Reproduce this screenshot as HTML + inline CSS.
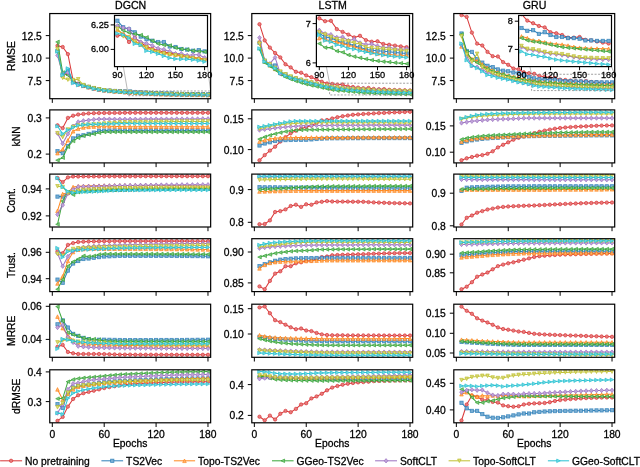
<!DOCTYPE html><html><head><meta charset="utf-8"><style>html,body{margin:0;padding:0;background:#fff;}svg{display:block;will-change:transform;filter:blur(0.25px);} text{stroke:#000;stroke-width:0.28px;fill:#000}</style></head><body><svg width="640" height="467" viewBox="0 0 640 467" font-family="Liberation Sans, sans-serif" font-size="10.3" stroke-width="0"><rect width="640" height="467" fill="#fff"/><g transform="translate(0.1,0.3)"><defs><marker id="m0" markerUnits="userSpaceOnUse" markerWidth="10" markerHeight="10" refX="0" refY="0" overflow="visible"><circle cx="0.00" cy="0.00" r="1.7" fill="#e67d7e" stroke="#d62728" stroke-opacity="0.75" stroke-width="0.8"/></marker><marker id="m1" markerUnits="userSpaceOnUse" markerWidth="10" markerHeight="10" refX="0" refY="0" overflow="visible"><rect x="-1.65" y="-1.65" width="3.30" height="3.30" fill="#79add2" stroke="#1f77b4" stroke-opacity="0.75" stroke-width="0.8"/></marker><marker id="m2" markerUnits="userSpaceOnUse" markerWidth="10" markerHeight="10" refX="0" refY="0" overflow="visible"><path d="M0.00 -1.80L1.80 1.80L-1.80 1.80Z" fill="#ffb26e" stroke="#ff7f0e" stroke-opacity="0.75" stroke-width="0.8"/></marker><marker id="m3" markerUnits="userSpaceOnUse" markerWidth="10" markerHeight="10" refX="0" refY="0" overflow="visible"><path d="M-1.80 0.00L1.80 -1.80L1.80 1.80Z" fill="#80c680" stroke="#2ca02c" stroke-opacity="0.75" stroke-width="0.8"/></marker><marker id="m4" markerUnits="userSpaceOnUse" markerWidth="10" markerHeight="10" refX="0" refY="0" overflow="visible"><path d="M0.00 -2.20L1.85 0.00L0.00 2.20L-1.85 0.00Z" fill="#bfa4d7" stroke="#9467bd" stroke-opacity="0.75" stroke-width="0.8"/></marker><marker id="m5" markerUnits="userSpaceOnUse" markerWidth="10" markerHeight="10" refX="0" refY="0" overflow="visible"><path d="M0.00 1.80L1.80 -1.80L-1.80 -1.80Z" fill="#d7d77a" stroke="#bcbd22" stroke-opacity="0.75" stroke-width="0.8"/></marker><marker id="m6" markerUnits="userSpaceOnUse" markerWidth="10" markerHeight="10" refX="0" refY="0" overflow="visible"><path d="M1.80 0.00L-1.80 -1.80L-1.80 1.80Z" fill="#74d8e2" stroke="#17becf" stroke-opacity="0.75" stroke-width="0.8"/></marker></defs><style>.s0{fill:none;stroke:#d62728;stroke-width:1.05;stroke-linejoin:round;stroke-opacity:0.9;marker-start:url(#m0);marker-mid:url(#m0);marker-end:url(#m0)}.s1{fill:none;stroke:#1f77b4;stroke-width:1.05;stroke-linejoin:round;stroke-opacity:0.9;marker-start:url(#m1);marker-mid:url(#m1);marker-end:url(#m1)}.s2{fill:none;stroke:#ff7f0e;stroke-width:1.05;stroke-linejoin:round;stroke-opacity:0.9;marker-start:url(#m2);marker-mid:url(#m2);marker-end:url(#m2)}.s3{fill:none;stroke:#2ca02c;stroke-width:1.05;stroke-linejoin:round;stroke-opacity:0.9;marker-start:url(#m3);marker-mid:url(#m3);marker-end:url(#m3)}.s4{fill:none;stroke:#9467bd;stroke-width:1.05;stroke-linejoin:round;stroke-opacity:0.9;marker-start:url(#m4);marker-mid:url(#m4);marker-end:url(#m4)}.s5{fill:none;stroke:#bcbd22;stroke-width:1.05;stroke-linejoin:round;stroke-opacity:0.9;marker-start:url(#m5);marker-mid:url(#m5);marker-end:url(#m5)}.s6{fill:none;stroke:#17becf;stroke-width:1.05;stroke-linejoin:round;stroke-opacity:0.9;marker-start:url(#m6);marker-mid:url(#m6);marker-end:url(#m6)}</style><clipPath id="c0"><rect x="49.65" y="13.25" width="160.9" height="85.15"/></clipPath><path clip-path="url(#c0)" class="s0" d="M57.4 45.4L62.6 46.7L67.8 53.8L73.0 80.1L78.1 83.4L83.3 85.2L88.5 86.6L93.7 88.1L98.9 89.1L104.1 90.0L109.3 90.6L114.5 91.1L119.7 91.5L124.8 92.0L130.0 92.5L135.2 92.4L140.4 93.1L145.6 92.7L150.8 93.2L156.0 93.5L161.2 93.7L166.4 93.9L171.5 94.0L176.7 94.1L181.9 94.2L187.1 94.4L192.3 94.4L197.5 94.5L202.7 94.6L207.9 94.7"/><path clip-path="url(#c0)" class="s1" d="M57.4 50.6L62.6 74.4L67.8 69.5L73.0 81.2L78.1 83.7L83.3 85.2L88.5 86.6L93.7 87.9L98.9 89.0L104.1 89.8L109.3 90.3L114.5 90.7L119.7 90.9L124.8 91.1L130.0 91.2L135.2 91.8L140.4 92.0L145.6 92.2L150.8 92.6L156.0 92.9L161.2 93.0L166.4 93.1L171.5 93.1L176.7 93.5L181.9 93.6L187.1 93.8L192.3 93.8L197.5 93.9L202.7 93.9L207.9 94.0"/><path clip-path="url(#c0)" class="s2" d="M57.4 49.2L62.6 75.3L67.8 73.1L73.0 80.8L78.1 83.9L83.3 85.5L88.5 87.0L93.7 88.2L98.9 89.2L104.1 90.0L109.3 90.6L114.5 91.1L119.7 91.4L124.8 91.7L130.0 92.0L135.2 92.4L140.4 92.6L145.6 93.0L150.8 93.3L156.0 93.7L161.2 93.9L166.4 94.0L171.5 94.1L176.7 94.2L181.9 94.3L187.1 94.4L192.3 94.5L197.5 94.5L202.7 94.6L207.9 94.7"/><path clip-path="url(#c0)" class="s3" d="M57.4 41.6L62.6 72.2L67.8 74.9L73.0 80.8L78.1 83.9L83.3 85.3L88.5 86.7L93.7 87.9L98.9 88.9L104.1 89.8L109.3 90.4L114.5 90.8L119.7 91.2L124.8 91.5L130.0 91.6L135.2 92.1L140.4 92.3L145.6 92.4L150.8 92.5L156.0 92.7L161.2 93.0L166.4 93.3L171.5 93.4L176.7 93.4L181.9 93.7L187.1 93.8L192.3 93.8L197.5 93.9L202.7 94.0L207.9 94.0"/><path clip-path="url(#c0)" class="s4" d="M57.4 55.1L62.6 74.0L67.8 72.2L73.0 82.1L78.1 84.3L83.3 85.5L88.5 86.9L93.7 88.2L98.9 89.3L104.1 90.0L109.3 90.5L114.5 90.8L119.7 91.1L124.8 91.4L130.0 91.6L135.2 91.8L140.4 91.9L145.6 92.8L150.8 93.1L156.0 93.3L161.2 93.4L166.4 93.7L171.5 93.8L176.7 94.0L181.9 94.2L187.1 94.2L192.3 94.3L197.5 94.3L202.7 94.3L207.9 94.6"/><path clip-path="url(#c0)" class="s5" d="M57.4 48.8L62.6 77.6L67.8 79.4L73.0 79.8L78.1 79.0L83.3 84.8L88.5 86.7L93.7 87.9L98.9 89.1L104.1 90.0L109.3 90.6L114.5 91.1L119.7 91.5L124.8 91.7L130.0 91.9L135.2 92.6L140.4 92.7L145.6 93.1L150.8 93.4L156.0 93.6L161.2 93.9L166.4 94.1L171.5 94.2L176.7 94.3L181.9 94.3L187.1 94.4L192.3 94.5L197.5 94.6L202.7 94.7L207.9 94.8"/><path clip-path="url(#c0)" class="s6" d="M57.4 51.2L62.6 74.9L67.8 68.2L73.0 82.7L78.1 84.8L83.3 85.7L88.5 87.0L93.7 88.4L98.9 89.4L104.1 90.2L109.3 90.8L114.5 91.3L119.7 91.7L124.8 92.0L130.0 92.3L135.2 92.4L140.4 92.8L145.6 93.3L150.8 93.4L156.0 93.9L161.2 94.0L166.4 94.2L171.5 94.4L176.7 94.6L181.9 94.7L187.1 94.7L192.3 94.7L197.5 94.7L202.7 94.8L207.9 94.9"/><g clip-path="url(#c0)"><rect x="127.44" y="90.68" width="83.02" height="4.70" fill="none" stroke="#888" stroke-width="0.8" stroke-dasharray="2 1.5"/></g><line x1="114.40" y1="15.15" x2="127.44" y2="90.68" stroke="#999" stroke-width="0.7"/><line x1="207.40" y1="66.30" x2="210.46" y2="90.68" stroke="#999" stroke-width="0.7"/><rect x="49.65" y="13.25" width="160.9" height="85.15" fill="none" stroke="#000" stroke-width="1.2"/><line x1="52.20" y1="98.4" x2="52.20" y2="102.60000000000001" stroke="#000" stroke-width="1.0"/><line x1="104.09" y1="98.4" x2="104.09" y2="102.60000000000001" stroke="#000" stroke-width="1.0"/><line x1="155.98" y1="98.4" x2="155.98" y2="102.60000000000001" stroke="#000" stroke-width="1.0"/><line x1="207.87" y1="98.4" x2="207.87" y2="102.60000000000001" stroke="#000" stroke-width="1.0"/><line x1="45.65" y1="35.3" x2="49.65" y2="35.3" stroke="#000" stroke-width="1.0"/><text x="41.65" y="39.30" text-anchor="end">12.5</text><line x1="45.65" y1="57.8" x2="49.65" y2="57.8" stroke="#000" stroke-width="1.0"/><text x="41.65" y="61.80" text-anchor="end">10.0</text><line x1="45.65" y1="80.3" x2="49.65" y2="80.3" stroke="#000" stroke-width="1.0"/><text x="41.65" y="84.30" text-anchor="end">7.5</text><text transform="translate(14.75,55.83) rotate(-90)" text-anchor="middle">RMSE</text><text x="130.50" y="8.9" font-size="10.6" text-anchor="middle">DGCN</text><rect x="114.4" y="15.15" width="93.00" height="51.15" fill="#fff"/><clipPath id="ci0"><rect x="114.4" y="15.15" width="93.00" height="51.15"/></clipPath><path clip-path="url(#ci0)" class="s0" d="M117.3 35.4L123.1 34.4L128.9 41.7L134.7 37.3L140.6 42.2L146.4 46.2L152.2 48.4L158.0 50.1L163.8 51.6L169.6 52.8L175.4 54.0L181.2 55.1L187.1 56.2L192.9 57.2L198.7 58.1L204.5 58.9"/><path clip-path="url(#ci0)" class="s1" d="M117.3 20.4L123.1 27.0L128.9 29.0L134.7 32.0L140.6 36.3L146.4 38.9L152.2 40.4L158.0 41.7L163.8 41.7L169.6 46.2L175.4 46.7L181.2 48.7L187.1 49.3L192.9 50.4L198.7 49.8L204.5 51.1"/><path clip-path="url(#ci0)" class="s2" d="M117.3 29.5L123.1 33.7L128.9 36.4L134.7 40.3L140.6 44.2L146.4 47.5L152.2 49.8L158.0 51.6L163.8 52.7L169.6 53.6L175.4 54.5L181.2 55.4L187.1 56.2L192.9 57.1L198.7 57.9L204.5 58.6"/><path clip-path="url(#ci0)" class="s3" d="M117.3 25.6L123.1 30.2L128.9 32.4L134.7 33.7L140.6 34.8L146.4 37.1L152.2 40.6L158.0 43.5L163.8 44.7L169.6 45.2L175.4 47.5L181.2 48.7L187.1 49.3L192.9 50.4L198.7 51.1L204.5 51.5"/><path clip-path="url(#ci0)" class="s4" d="M117.3 25.6L123.1 27.5L128.9 28.5L134.7 37.7L140.6 41.7L146.4 43.2L152.2 45.3L158.0 48.1L163.8 49.1L169.6 51.1L175.4 53.3L181.2 53.3L187.1 55.1L192.9 54.5L198.7 54.5L204.5 57.4"/><path clip-path="url(#ci0)" class="s5" d="M117.3 28.5L123.1 36.1L128.9 37.3L134.7 41.3L140.6 44.4L146.4 47.1L152.2 49.9L158.0 52.0L163.8 53.2L169.6 54.1L175.4 55.0L181.2 56.0L187.1 56.9L192.9 57.9L198.7 58.9L204.5 59.9"/><path clip-path="url(#ci0)" class="s6" d="M117.3 33.1L123.1 34.4L128.9 37.7L134.7 43.5L140.6 44.7L146.4 50.5L152.2 51.6L158.0 53.5L163.8 55.6L169.6 57.6L175.4 58.6L181.2 58.8L187.1 58.9L192.9 59.4L198.7 60.3L204.5 61.4"/><rect x="114.4" y="15.15" width="93.00" height="51.15" fill="none" stroke="#000" stroke-width="1.2"/><line x1="117.31" y1="66.3" x2="117.31" y2="69.89999999999999" stroke="#000" stroke-width="1.0"/><text x="117.31" y="77.70" font-size="9.2" text-anchor="middle">90</text><line x1="146.37" y1="66.3" x2="146.37" y2="69.89999999999999" stroke="#000" stroke-width="1.0"/><text x="146.37" y="77.70" font-size="9.2" text-anchor="middle">120</text><line x1="175.43" y1="66.3" x2="175.43" y2="69.89999999999999" stroke="#000" stroke-width="1.0"/><text x="175.43" y="77.70" font-size="9.2" text-anchor="middle">150</text><line x1="204.49" y1="66.3" x2="204.49" y2="69.89999999999999" stroke="#000" stroke-width="1.0"/><text x="204.49" y="77.70" font-size="9.2" text-anchor="middle">180</text><line x1="110.60000000000001" y1="24.6" x2="114.4" y2="24.6" stroke="#000" stroke-width="1.0"/><text x="108.80" y="27.60" font-size="9.2" text-anchor="end">6.25</text><line x1="110.60000000000001" y1="49.1" x2="114.4" y2="49.1" stroke="#000" stroke-width="1.0"/><text x="108.80" y="52.10" font-size="9.2" text-anchor="end">6.00</text><clipPath id="c1"><rect x="251.7" y="13.25" width="160.9" height="85.15"/></clipPath><path clip-path="url(#c1)" class="s0" d="M259.4 23.9L264.6 40.1L269.8 47.3L275.0 52.7L280.2 57.1L285.4 64.0L290.6 67.1L295.8 71.5L301.0 72.4L306.1 75.1L311.3 76.9L316.5 79.1L321.7 81.4L326.9 83.2L332.1 83.6L337.3 84.3L342.5 84.2L347.7 86.1L352.8 86.7L358.0 87.3L363.2 87.9L368.4 87.6L373.6 88.6L378.8 88.9L384.0 88.8L389.2 89.5L394.4 89.7L399.5 89.8L404.7 90.0L409.9 90.2"/><path clip-path="url(#c1)" class="s1" d="M259.4 42.5L264.6 60.5L269.8 64.1L275.0 65.2L280.2 71.8L285.4 74.4L290.6 76.7L295.8 78.5L301.0 79.9L306.1 81.2L311.3 82.6L316.5 83.9L321.7 85.1L326.9 86.2L332.1 87.0L337.3 87.9L342.5 88.1L347.7 88.7L352.8 89.2L358.0 89.4L363.2 89.9L368.4 90.2L373.6 90.7L378.8 90.9L384.0 91.0L389.2 91.1L394.4 91.3L399.5 91.4L404.7 91.5L409.9 91.6"/><path clip-path="url(#c1)" class="s2" d="M259.4 41.0L264.6 61.4L269.8 65.0L275.0 68.6L280.2 72.2L285.4 74.9L290.6 77.1L295.8 78.9L301.0 80.4L306.1 81.7L311.3 83.0L316.5 84.3L321.7 85.7L326.9 87.0L332.1 88.1L337.3 88.4L342.5 88.8L347.7 89.0L352.8 89.4L358.0 89.8L363.2 90.1L368.4 90.6L373.6 91.0L378.8 91.4L384.0 91.6L389.2 91.8L394.4 91.9L399.5 92.0L404.7 92.1L409.9 92.1"/><path clip-path="url(#c1)" class="s3" d="M259.4 49.0L264.6 62.3L269.8 65.9L275.0 69.5L280.2 74.0L285.4 76.7L290.6 78.9L295.8 80.8L301.0 82.4L306.1 83.9L311.3 85.1L316.5 86.2L321.7 87.3L326.9 88.4L332.1 89.4L337.3 90.3L342.5 90.3L347.7 91.1L352.8 91.4L358.0 92.0L363.2 92.4L368.4 92.6L373.6 92.9L378.8 93.2L384.0 93.3L389.2 93.5L394.4 93.6L399.5 93.7L404.7 93.9L409.9 94.0"/><path clip-path="url(#c1)" class="s4" d="M259.4 37.4L264.6 60.4L269.8 63.4L275.0 57.1L280.2 73.3L285.4 74.0L290.6 76.9L295.8 78.0L301.0 79.4L306.1 80.8L311.3 82.1L316.5 83.4L321.7 84.7L326.9 85.7L332.1 86.3L337.3 87.1L342.5 87.3L347.7 87.9L352.8 87.9L358.0 88.7L363.2 88.4L368.4 89.2L373.6 89.6L378.8 89.5L384.0 89.9L389.2 90.3L394.4 90.2L399.5 90.6L404.7 90.7L409.9 90.6"/><path clip-path="url(#c1)" class="s5" d="M259.4 43.4L264.6 60.5L269.8 64.1L275.0 67.7L280.2 71.3L285.4 74.0L290.6 76.2L295.8 78.0L301.0 79.5L306.1 80.8L311.3 82.1L316.5 83.4L321.7 84.6L326.9 85.7L332.1 86.8L337.3 87.3L342.5 87.9L347.7 88.4L352.8 88.7L358.0 88.8L363.2 89.2L368.4 89.5L373.6 90.2L378.8 90.4L384.0 90.5L389.2 90.6L394.4 90.7L399.5 90.9L404.7 91.0L409.9 91.1"/><path clip-path="url(#c1)" class="s6" d="M259.4 48.2L264.6 61.4L269.8 65.0L275.0 67.9L280.2 72.7L285.4 75.3L290.6 77.3L295.8 78.9L301.0 80.3L306.1 81.7L311.3 83.0L316.5 84.3L321.7 85.6L326.9 86.6L332.1 87.4L337.3 88.7L342.5 88.9L347.7 89.7L352.8 89.9L358.0 90.5L363.2 90.7L368.4 91.0L373.6 91.3L378.8 91.6L384.0 91.8L389.2 92.0L394.4 92.2L399.5 92.3L404.7 92.5L409.9 92.5"/><g clip-path="url(#c1)"><rect x="329.49" y="82.93" width="83.02" height="11.71" fill="none" stroke="#888" stroke-width="0.8" stroke-dasharray="2 1.5"/></g><line x1="316.30" y1="15.15" x2="329.49" y2="82.93" stroke="#999" stroke-width="0.7"/><line x1="409.40" y1="66.30" x2="412.51" y2="82.93" stroke="#999" stroke-width="0.7"/><rect x="251.7" y="13.25" width="160.9" height="85.15" fill="none" stroke="#000" stroke-width="1.2"/><line x1="254.25" y1="98.4" x2="254.25" y2="102.60000000000001" stroke="#000" stroke-width="1.0"/><line x1="306.14" y1="98.4" x2="306.14" y2="102.60000000000001" stroke="#000" stroke-width="1.0"/><line x1="358.03" y1="98.4" x2="358.03" y2="102.60000000000001" stroke="#000" stroke-width="1.0"/><line x1="409.92" y1="98.4" x2="409.92" y2="102.60000000000001" stroke="#000" stroke-width="1.0"/><line x1="247.7" y1="35.3" x2="251.7" y2="35.3" stroke="#000" stroke-width="1.0"/><text x="243.70" y="39.30" text-anchor="end">12.5</text><line x1="247.7" y1="57.8" x2="251.7" y2="57.8" stroke="#000" stroke-width="1.0"/><text x="243.70" y="61.80" text-anchor="end">10.0</text><line x1="247.7" y1="80.3" x2="251.7" y2="80.3" stroke="#000" stroke-width="1.0"/><text x="243.70" y="84.30" text-anchor="end">7.5</text><text x="332.55" y="8.9" font-size="10.6" text-anchor="middle">LSTM</text><rect x="316.3" y="15.15" width="93.10" height="51.15" fill="#fff"/><clipPath id="ci1"><rect x="316.3" y="15.15" width="93.10" height="51.15"/></clipPath><path clip-path="url(#ci1)" class="s0" d="M319.2 18.0L325.0 20.9L330.8 20.5L336.7 28.8L342.5 31.6L348.3 34.3L354.1 37.1L359.9 35.5L365.8 39.8L371.6 41.4L377.4 41.0L383.2 43.7L389.0 44.5L394.9 45.3L400.7 46.1L406.5 46.9"/><path clip-path="url(#ci1)" class="s1" d="M319.2 33.1L325.0 36.7L330.8 37.8L336.7 40.2L342.5 42.6L348.3 43.3L354.1 45.7L359.9 46.9L365.8 49.2L371.6 49.9L377.4 50.4L383.2 51.0L389.0 51.5L394.9 52.1L400.7 52.6L406.5 53.2"/><path clip-path="url(#ci1)" class="s2" d="M319.2 37.8L325.0 39.0L330.8 40.6L336.7 41.8L342.5 43.3L348.3 44.9L354.1 46.5L359.9 48.5L365.8 50.3L371.6 52.0L377.4 53.2L383.2 53.8L389.0 54.3L394.9 54.8L400.7 55.0L406.5 55.1"/><path clip-path="url(#ci1)" class="s3" d="M319.2 43.3L325.0 47.3L330.8 47.3L336.7 50.8L342.5 52.0L348.3 54.7L354.1 56.3L359.9 57.5L365.8 58.7L371.6 59.8L377.4 60.6L383.2 61.3L389.0 61.8L394.9 62.4L400.7 62.9L406.5 63.4"/><path clip-path="url(#ci1)" class="s4" d="M319.2 30.0L325.0 33.5L330.8 34.3L336.7 37.1L342.5 36.7L348.3 40.2L354.1 39.0L359.9 42.6L365.8 44.1L371.6 43.7L377.4 45.7L383.2 47.3L389.0 46.9L394.9 48.5L400.7 49.2L406.5 48.5"/><path clip-path="url(#ci1)" class="s5" d="M319.2 31.9L325.0 34.3L330.8 36.7L336.7 39.0L342.5 40.2L348.3 41.0L354.1 42.6L359.9 43.7L365.8 46.9L371.6 47.6L377.4 48.1L383.2 48.6L389.0 49.2L394.9 49.7L400.7 50.3L406.5 50.8"/><path clip-path="url(#ci1)" class="s6" d="M319.2 34.7L325.0 40.2L330.8 41.4L336.7 44.5L342.5 45.7L348.3 48.1L354.1 48.8L359.9 50.4L365.8 51.6L371.6 52.9L377.4 54.0L383.2 54.8L389.0 55.6L394.9 56.2L400.7 56.8L406.5 57.1"/><rect x="316.3" y="15.15" width="93.10" height="51.15" fill="none" stroke="#000" stroke-width="1.2"/><line x1="319.21" y1="66.3" x2="319.21" y2="69.89999999999999" stroke="#000" stroke-width="1.0"/><text x="319.21" y="77.70" font-size="9.2" text-anchor="middle">90</text><line x1="348.30" y1="66.3" x2="348.30" y2="69.89999999999999" stroke="#000" stroke-width="1.0"/><text x="348.30" y="77.70" font-size="9.2" text-anchor="middle">120</text><line x1="377.40" y1="66.3" x2="377.40" y2="69.89999999999999" stroke="#000" stroke-width="1.0"/><text x="377.40" y="77.70" font-size="9.2" text-anchor="middle">150</text><line x1="406.49" y1="66.3" x2="406.49" y2="69.89999999999999" stroke="#000" stroke-width="1.0"/><text x="406.49" y="77.70" font-size="9.2" text-anchor="middle">180</text><line x1="312.5" y1="23.3" x2="316.3" y2="23.3" stroke="#000" stroke-width="1.0"/><text x="310.70" y="26.30" font-size="9.2" text-anchor="end">7</text><line x1="312.5" y1="62.6" x2="316.3" y2="62.6" stroke="#000" stroke-width="1.0"/><text x="310.70" y="65.60" font-size="9.2" text-anchor="end">6</text><clipPath id="c2"><rect x="453.7" y="13.25" width="160.9" height="85.15"/></clipPath><path clip-path="url(#c2)" class="s0" d="M461.4 14.8L466.6 16.6L471.8 32.3L477.0 43.3L482.2 45.2L487.4 51.6L492.6 55.9L497.8 56.2L503.0 61.8L508.1 64.5L513.3 68.2L518.5 69.0L523.7 72.0L528.9 72.9L534.1 73.5L539.3 75.6L544.5 76.4L549.7 77.3L554.8 77.8L560.0 79.3L565.2 79.7L570.4 80.2L575.6 81.0L580.8 81.0L586.0 80.8L591.2 81.7L596.4 81.9L601.5 82.3L606.7 82.6L611.9 82.9"/><path clip-path="url(#c2)" class="s1" d="M461.4 33.2L466.6 50.7L471.8 51.6L477.0 59.0L482.2 62.3L487.4 65.5L492.6 66.8L497.8 69.1L503.0 70.4L508.1 71.0L513.3 72.2L518.5 72.8L523.7 74.7L528.9 76.7L534.1 78.0L539.3 78.9L544.5 78.7L549.7 79.8L554.8 79.3L560.0 80.2L565.2 80.8L570.4 80.8L575.6 81.2L580.8 81.2L586.0 81.4L591.2 81.9L596.4 81.9L601.5 82.1L606.7 82.1L611.9 82.1"/><path clip-path="url(#c2)" class="s2" d="M461.4 46.1L466.6 53.5L471.8 58.7L477.0 60.8L482.2 64.1L487.4 67.7L492.6 70.2L497.8 72.2L503.0 73.9L508.1 75.3L513.3 76.5L518.5 77.6L523.7 78.8L528.9 79.8L534.1 80.7L539.3 81.2L544.5 81.9L549.7 82.1L554.8 82.5L560.0 82.9L565.2 83.1L570.4 83.3L575.6 83.6L580.8 84.0L586.0 84.3L591.2 84.4L596.4 84.5L601.5 84.6L606.7 84.6L611.9 84.6"/><path clip-path="url(#c2)" class="s3" d="M461.4 34.1L466.6 51.5L471.8 59.6L477.0 62.3L482.2 65.9L487.4 68.6L492.6 70.8L497.8 72.7L503.0 74.3L508.1 75.8L513.3 77.2L518.5 78.5L523.7 79.4L528.9 80.3L534.1 81.2L539.3 81.9L544.5 82.3L549.7 82.5L554.8 82.9L560.0 83.3L565.2 83.7L570.4 84.1L575.6 84.3L580.8 84.5L586.0 84.6L591.2 84.8L596.4 85.0L601.5 85.1L606.7 85.3L611.9 85.4"/><path clip-path="url(#c2)" class="s4" d="M461.4 44.3L466.6 56.0L471.8 65.5L477.0 66.8L482.2 69.5L487.4 71.9L492.6 74.0L497.8 75.8L503.0 77.2L508.1 78.5L513.3 79.9L518.5 81.2L523.7 82.4L528.9 83.4L534.1 84.1L539.3 84.8L544.5 85.1L549.7 85.4L554.8 85.8L560.0 86.2L565.2 86.4L570.4 86.6L575.6 86.9L580.8 87.2L586.0 87.5L591.2 87.7L596.4 87.8L601.5 87.9L606.7 88.0L611.9 88.0"/><path clip-path="url(#c2)" class="s5" d="M461.4 36.0L466.6 54.2L471.8 61.4L477.0 53.5L482.2 66.8L487.4 70.4L492.6 72.9L497.8 74.9L503.0 76.6L508.1 78.0L513.3 79.5L518.5 80.8L523.7 82.0L528.9 83.0L534.1 83.7L539.3 84.6L544.5 84.8L549.7 85.2L554.8 85.6L560.0 86.0L565.2 86.2L570.4 86.3L575.6 86.7L580.8 87.1L586.0 87.3L591.2 87.4L596.4 87.5L601.5 87.6L606.7 87.7L611.9 87.7"/><path clip-path="url(#c2)" class="s6" d="M461.4 43.3L466.6 59.9L471.8 65.5L477.0 67.7L482.2 71.0L487.4 74.7L492.6 75.8L497.8 77.4L503.0 78.4L508.1 79.3L513.3 80.7L518.5 82.0L523.7 82.9L528.9 83.9L534.1 85.4L539.3 86.3L544.5 86.5L549.7 87.0L554.8 87.1L560.0 87.7L565.2 88.0L570.4 88.3L575.6 88.5L580.8 88.7L586.0 88.8L591.2 89.0L596.4 89.2L601.5 89.3L606.7 89.5L611.9 89.7"/><g clip-path="url(#c2)"><rect x="531.49" y="73.96" width="83.02" height="16.32" fill="none" stroke="#888" stroke-width="0.8" stroke-dasharray="2 1.5"/></g><line x1="518.50" y1="15.15" x2="531.49" y2="73.96" stroke="#999" stroke-width="0.7"/><line x1="611.40" y1="66.30" x2="614.51" y2="73.96" stroke="#999" stroke-width="0.7"/><rect x="453.7" y="13.25" width="160.9" height="85.15" fill="none" stroke="#000" stroke-width="1.2"/><line x1="456.25" y1="98.4" x2="456.25" y2="102.60000000000001" stroke="#000" stroke-width="1.0"/><line x1="508.14" y1="98.4" x2="508.14" y2="102.60000000000001" stroke="#000" stroke-width="1.0"/><line x1="560.03" y1="98.4" x2="560.03" y2="102.60000000000001" stroke="#000" stroke-width="1.0"/><line x1="611.92" y1="98.4" x2="611.92" y2="102.60000000000001" stroke="#000" stroke-width="1.0"/><line x1="449.7" y1="35.3" x2="453.7" y2="35.3" stroke="#000" stroke-width="1.0"/><text x="445.70" y="39.30" text-anchor="end">12.5</text><line x1="449.7" y1="57.8" x2="453.7" y2="57.8" stroke="#000" stroke-width="1.0"/><text x="445.70" y="61.80" text-anchor="end">10.0</text><line x1="449.7" y1="80.3" x2="453.7" y2="80.3" stroke="#000" stroke-width="1.0"/><text x="445.70" y="84.30" text-anchor="end">7.5</text><text x="534.55" y="8.9" font-size="10.6" text-anchor="middle">GRU</text><rect x="518.5" y="15.15" width="92.90" height="51.15" fill="#fff"/><clipPath id="ci2"><rect x="518.5" y="15.15" width="92.90" height="51.15"/></clipPath><path clip-path="url(#ci2)" class="s0" d="M521.4 13.8L527.2 20.3L533.0 22.9L538.8 25.7L544.6 27.1L550.4 31.9L556.2 33.0L562.0 34.7L567.9 37.3L573.7 37.3L579.5 36.7L585.3 39.5L591.1 40.1L596.9 41.2L602.7 42.3L608.5 43.2"/><path clip-path="url(#ci2)" class="s1" d="M521.4 27.7L527.2 30.5L533.0 29.9L538.8 33.6L544.6 31.9L550.4 34.7L556.2 36.7L562.0 36.7L567.9 37.8L573.7 37.8L579.5 38.4L585.3 40.1L591.1 40.1L596.9 40.6L602.7 40.6L608.5 40.6"/><path clip-path="url(#ci2)" class="s2" d="M521.4 36.1L527.2 37.8L533.0 40.1L538.8 40.6L544.6 42.0L550.4 43.2L556.2 43.8L562.0 44.3L567.9 45.3L573.7 46.6L579.5 47.4L585.3 47.8L591.1 48.1L596.9 48.3L602.7 48.5L608.5 48.5"/><path clip-path="url(#ci2)" class="s3" d="M521.4 37.8L527.2 40.1L533.0 41.2L538.8 42.0L544.6 43.1L550.4 44.3L556.2 45.7L562.0 46.8L567.9 47.5L573.7 48.0L579.5 48.5L585.3 49.1L591.1 49.6L596.9 50.1L602.7 50.6L608.5 51.1"/><path clip-path="url(#ci2)" class="s4" d="M521.4 46.8L527.2 49.1L533.0 49.9L538.8 51.1L544.6 52.3L550.4 53.3L556.2 54.0L562.0 54.7L567.9 55.7L573.7 56.8L579.5 57.6L585.3 58.1L591.1 58.5L596.9 58.9L602.7 59.2L608.5 59.3"/><path clip-path="url(#ci2)" class="s5" d="M521.4 45.7L527.2 48.5L533.0 49.1L538.8 50.2L544.6 51.6L550.4 52.8L556.2 53.3L562.0 53.9L567.9 54.9L573.7 56.2L579.5 57.0L585.3 57.4L591.1 57.7L596.9 57.9L602.7 58.1L608.5 58.1"/><path clip-path="url(#ci2)" class="s6" d="M521.4 51.1L527.2 53.9L533.0 54.5L538.8 55.9L544.6 56.4L550.4 58.1L556.2 59.3L562.0 60.1L567.9 60.7L573.7 61.3L579.5 61.8L585.3 62.3L591.1 62.8L596.9 63.4L602.7 63.8L608.5 64.3"/><rect x="518.5" y="15.15" width="92.90" height="51.15" fill="none" stroke="#000" stroke-width="1.2"/><line x1="521.40" y1="66.3" x2="521.40" y2="69.89999999999999" stroke="#000" stroke-width="1.0"/><text x="521.40" y="77.70" font-size="9.2" text-anchor="middle">90</text><line x1="550.43" y1="66.3" x2="550.43" y2="69.89999999999999" stroke="#000" stroke-width="1.0"/><text x="550.43" y="77.70" font-size="9.2" text-anchor="middle">120</text><line x1="579.47" y1="66.3" x2="579.47" y2="69.89999999999999" stroke="#000" stroke-width="1.0"/><text x="579.47" y="77.70" font-size="9.2" text-anchor="middle">150</text><line x1="608.50" y1="66.3" x2="608.50" y2="69.89999999999999" stroke="#000" stroke-width="1.0"/><text x="608.50" y="77.70" font-size="9.2" text-anchor="middle">180</text><line x1="514.7" y1="20.9" x2="518.5" y2="20.9" stroke="#000" stroke-width="1.0"/><text x="512.90" y="23.90" font-size="9.2" text-anchor="end">8</text><line x1="514.7" y1="49.1" x2="518.5" y2="49.1" stroke="#000" stroke-width="1.0"/><text x="512.90" y="52.10" font-size="9.2" text-anchor="end">7</text><clipPath id="c3"><rect x="49.65" y="109.6" width="160.9" height="53.0"/></clipPath><path clip-path="url(#c3)" class="s0" d="M57.4 125.0L62.6 127.8L67.8 117.6L73.0 115.4L78.1 114.2L83.3 113.6L88.5 113.1L93.7 112.9L98.9 112.8L104.1 112.7L109.3 112.7L114.5 112.6L119.7 112.6L124.8 112.5L130.0 112.5L135.2 112.5L140.4 112.5L145.6 112.5L150.8 112.5L156.0 112.5L161.2 112.5L166.4 112.5L171.5 112.5L176.7 112.5L181.9 112.5L187.1 112.5L192.3 112.5L197.5 112.5L202.7 112.5L207.9 112.5"/><path clip-path="url(#c3)" class="s1" d="M57.4 150.9L62.6 152.9L67.8 145.8L73.0 138.1L78.1 135.5L83.3 135.0L88.5 133.6L93.7 132.3L98.9 130.4L104.1 130.3L109.3 130.2L114.5 130.1L119.7 130.1L124.8 130.1L130.0 130.1L135.2 130.1L140.4 130.1L145.6 130.1L150.8 130.1L156.0 130.1L161.2 130.1L166.4 130.1L171.5 130.1L176.7 130.1L181.9 130.1L187.1 130.1L192.3 130.1L197.5 130.1L202.7 130.1L207.9 130.1"/><path clip-path="url(#c3)" class="s2" d="M57.4 152.9L62.6 149.0L67.8 140.0L73.0 131.0L78.1 128.5L83.3 127.2L88.5 126.6L93.7 126.3L98.9 126.0L104.1 125.9L109.3 126.0L114.5 126.1L119.7 126.3L124.8 126.4L130.0 126.4L135.2 126.4L140.4 126.4L145.6 126.4L150.8 126.4L156.0 126.4L161.2 126.4L166.4 126.4L171.5 126.4L176.7 126.4L181.9 126.4L187.1 126.4L192.3 126.4L197.5 126.4L202.7 126.4L207.9 126.4"/><path clip-path="url(#c3)" class="s3" d="M57.4 159.9L62.6 157.4L67.8 146.5L73.0 140.7L78.1 137.5L83.3 135.5L88.5 134.3L93.7 133.6L98.9 132.4L104.1 131.7L109.3 131.7L114.5 131.7L119.7 131.7L124.8 131.7L130.0 131.7L135.2 131.7L140.4 131.7L145.6 131.7L150.8 131.7L156.0 131.7L161.2 131.7L166.4 131.7L171.5 131.7L176.7 131.7L181.9 131.7L187.1 131.7L192.3 131.7L197.5 131.7L202.7 131.7L207.9 131.7"/><path clip-path="url(#c3)" class="s4" d="M57.4 132.9L62.6 143.3L67.8 133.6L73.0 125.9L78.1 121.6L83.3 120.5L88.5 119.9L93.7 119.2L98.9 118.8L104.1 118.8L109.3 118.8L114.5 118.9L119.7 118.9L124.8 118.9L130.0 118.9L135.2 118.9L140.4 118.9L145.6 118.8L150.8 118.8L156.0 118.8L161.2 118.8L166.4 118.8L171.5 118.8L176.7 118.7L181.9 118.7L187.1 118.7L192.3 118.6L197.5 118.6L202.7 118.5L207.9 118.5"/><path clip-path="url(#c3)" class="s5" d="M57.4 132.9L62.6 136.8L67.8 129.2L73.0 126.6L78.1 125.2L83.3 124.7L88.5 124.4L93.7 124.1L98.9 123.7L104.1 123.3L109.3 122.9L114.5 122.5L119.7 122.2L124.8 122.1L130.0 121.9L135.2 121.8L140.4 121.7L145.6 121.7L150.8 121.6L156.0 121.5L161.2 121.4L166.4 121.4L171.5 121.3L176.7 121.3L181.9 121.2L187.1 121.2L192.3 121.1L197.5 121.1L202.7 121.1L207.9 121.1"/><path clip-path="url(#c3)" class="s6" d="M57.4 125.9L62.6 133.6L67.8 129.7L73.0 127.2L78.1 125.2L83.3 124.6L88.5 124.1L93.7 124.0L98.9 123.9L104.1 123.8L109.3 123.6L114.5 123.4L119.7 123.3L124.8 123.2L130.0 123.2L135.2 123.2L140.4 123.2L145.6 123.2L150.8 123.2L156.0 123.2L161.2 123.2L166.4 123.2L171.5 123.2L176.7 123.2L181.9 123.2L187.1 123.2L192.3 123.2L197.5 123.2L202.7 123.2L207.9 123.2"/><rect x="49.65" y="109.6" width="160.9" height="53.0" fill="none" stroke="#000" stroke-width="1.2"/><line x1="52.20" y1="162.6" x2="52.20" y2="166.79999999999998" stroke="#000" stroke-width="1.0"/><line x1="104.09" y1="162.6" x2="104.09" y2="166.79999999999998" stroke="#000" stroke-width="1.0"/><line x1="155.98" y1="162.6" x2="155.98" y2="166.79999999999998" stroke="#000" stroke-width="1.0"/><line x1="207.87" y1="162.6" x2="207.87" y2="166.79999999999998" stroke="#000" stroke-width="1.0"/><line x1="45.65" y1="117.6" x2="49.65" y2="117.6" stroke="#000" stroke-width="1.0"/><text x="41.65" y="121.60" text-anchor="end">0.3</text><line x1="45.65" y1="153.8" x2="49.65" y2="153.8" stroke="#000" stroke-width="1.0"/><text x="41.65" y="157.80" text-anchor="end">0.2</text><text transform="translate(20.35,136.10) rotate(-90)" text-anchor="middle">kNN</text><clipPath id="c4"><rect x="251.7" y="109.6" width="160.9" height="53.0"/></clipPath><path clip-path="url(#c4)" class="s0" d="M259.4 160.0L264.6 154.8L269.8 150.3L275.0 146.4L280.2 141.3L285.4 136.8L290.6 133.0L295.8 130.4L301.0 128.5L306.1 126.6L311.3 125.3L316.5 122.7L321.7 120.1L326.9 119.7L332.1 118.2L337.3 116.9L342.5 115.9L347.7 115.2L352.8 114.5L358.0 114.1L363.2 113.7L368.4 113.4L373.6 113.1L378.8 112.8L384.0 112.6L389.2 112.3L394.4 112.1L399.5 111.9L404.7 111.7L409.9 111.5"/><path clip-path="url(#c4)" class="s1" d="M259.4 145.2L264.6 143.2L269.8 142.0L275.0 140.7L280.2 140.0L285.4 139.8L290.6 139.7L295.8 139.6L301.0 139.5L306.1 139.4L311.3 139.1L316.5 138.7L321.7 138.3L326.9 138.1L332.1 138.0L337.3 138.0L342.5 138.0L347.7 137.9L352.8 137.9L358.0 137.9L363.2 137.9L368.4 137.8L373.6 137.8L378.8 137.8L384.0 137.8L389.2 137.8L394.4 137.8L399.5 137.8L404.7 137.8L409.9 137.8"/><path clip-path="url(#c4)" class="s2" d="M259.4 141.3L264.6 139.9L269.8 138.8L275.0 137.9L280.2 137.5L285.4 137.4L290.6 137.4L295.8 137.3L301.0 137.3L306.1 137.3L311.3 137.2L316.5 137.2L321.7 137.2L326.9 137.1L332.1 137.1L337.3 137.1L342.5 137.1L347.7 137.1L352.8 137.0L358.0 137.0L363.2 137.0L368.4 137.0L373.6 137.0L378.8 137.0L384.0 137.0L389.2 137.0L394.4 137.0L399.5 137.0L404.7 137.0L409.9 137.0"/><path clip-path="url(#c4)" class="s3" d="M259.4 138.8L264.6 136.6L269.8 134.9L275.0 133.5L280.2 132.3L285.4 131.2L290.6 130.4L295.8 130.0L301.0 129.6L306.1 129.5L311.3 129.4L316.5 129.4L321.7 129.3L326.9 129.3L332.1 129.2L337.3 129.2L342.5 129.1L347.7 129.1L352.8 129.1L358.0 129.0L363.2 129.0L368.4 128.9L373.6 128.9L378.8 128.8L384.0 128.8L389.2 128.8L394.4 128.7L399.5 128.7L404.7 128.6L409.9 128.6"/><path clip-path="url(#c4)" class="s4" d="M259.4 129.8L264.6 129.1L269.8 128.5L275.0 127.8L280.2 127.2L285.4 126.7L290.6 126.3L295.8 125.9L301.0 125.5L306.1 125.3L311.3 125.2L316.5 125.2L321.7 125.1L326.9 125.1L332.1 125.0L337.3 125.0L342.5 125.0L347.7 124.9L352.8 124.9L358.0 124.9L363.2 124.9L368.4 124.8L373.6 124.8L378.8 124.8L384.0 124.8L389.2 124.8L394.4 124.8L399.5 124.8L404.7 124.8L409.9 124.8"/><path clip-path="url(#c4)" class="s5" d="M259.4 128.5L264.6 127.3L269.8 126.2L275.0 125.3L280.2 124.5L285.4 123.8L290.6 123.4L295.8 123.1L301.0 122.8L306.1 122.7L311.3 122.6L316.5 122.5L321.7 122.5L326.9 122.4L332.1 122.4L337.3 122.4L342.5 122.4L347.7 122.4L352.8 122.4L358.0 122.5L363.2 122.5L368.4 122.5L373.6 122.5L378.8 122.5L384.0 122.5L389.2 122.5L394.4 122.6L399.5 122.6L404.7 122.6L409.9 122.7"/><path clip-path="url(#c4)" class="s6" d="M259.4 126.6L264.6 125.9L269.8 125.0L275.0 124.0L280.2 123.0L285.4 122.1L290.6 121.2L295.8 120.8L301.0 120.8L306.1 120.8L311.3 120.8L316.5 120.8L321.7 120.7L326.9 120.7L332.1 120.7L337.3 120.7L342.5 120.7L347.7 120.7L352.8 120.7L358.0 120.7L363.2 120.7L368.4 120.7L373.6 120.7L378.8 120.7L384.0 120.7L389.2 120.7L394.4 120.7L399.5 120.7L404.7 120.7L409.9 120.7"/><rect x="251.7" y="109.6" width="160.9" height="53.0" fill="none" stroke="#000" stroke-width="1.2"/><line x1="254.25" y1="162.6" x2="254.25" y2="166.79999999999998" stroke="#000" stroke-width="1.0"/><line x1="306.14" y1="162.6" x2="306.14" y2="166.79999999999998" stroke="#000" stroke-width="1.0"/><line x1="358.03" y1="162.6" x2="358.03" y2="166.79999999999998" stroke="#000" stroke-width="1.0"/><line x1="409.92" y1="162.6" x2="409.92" y2="166.79999999999998" stroke="#000" stroke-width="1.0"/><line x1="247.7" y1="118.5" x2="251.7" y2="118.5" stroke="#000" stroke-width="1.0"/><text x="243.70" y="122.50" text-anchor="end">0.15</text><line x1="247.7" y1="149.3" x2="251.7" y2="149.3" stroke="#000" stroke-width="1.0"/><text x="243.70" y="153.30" text-anchor="end">0.10</text><clipPath id="c5"><rect x="453.7" y="109.6" width="160.9" height="53.0"/></clipPath><path clip-path="url(#c5)" class="s0" d="M461.4 159.9L466.6 158.0L471.8 156.7L477.0 155.4L482.2 154.8L487.4 153.5L492.6 151.0L497.8 147.1L503.0 144.5L508.1 142.0L513.3 139.4L518.5 137.5L523.7 136.2L528.9 134.9L534.1 132.9L539.3 131.5L544.5 130.3L549.7 129.3L554.8 128.4L560.0 127.7L565.2 127.2L570.4 126.8L575.6 126.5L580.8 126.2L586.0 126.0L591.2 125.7L596.4 125.5L601.5 125.3L606.7 125.2L611.9 125.1"/><path clip-path="url(#c5)" class="s1" d="M461.4 142.6L466.6 141.1L471.8 140.0L477.0 139.2L482.2 138.6L487.4 138.1L492.6 137.7L497.8 137.4L503.0 137.1L508.1 136.8L513.3 136.5L518.5 136.2L523.7 136.0L528.9 135.9L534.1 135.8L539.3 135.7L544.5 135.6L549.7 135.5L554.8 135.5L560.0 135.4L565.2 135.3L570.4 135.3L575.6 135.2L580.8 135.2L586.0 135.2L591.2 135.1L596.4 135.1L601.5 135.1L606.7 135.1L611.9 135.1"/><path clip-path="url(#c5)" class="s2" d="M461.4 141.3L466.6 139.8L471.8 138.8L477.0 138.0L482.2 137.5L487.4 137.1L492.6 136.8L497.8 136.6L503.0 136.4L508.1 136.2L513.3 135.9L518.5 135.7L523.7 135.5L528.9 135.3L534.1 135.2L539.3 135.1L544.5 135.0L549.7 134.9L554.8 134.8L560.0 134.7L565.2 134.6L570.4 134.5L575.6 134.5L580.8 134.4L586.0 134.4L591.2 134.3L596.4 134.3L601.5 134.2L606.7 134.2L611.9 134.2"/><path clip-path="url(#c5)" class="s3" d="M461.4 139.1L466.6 137.8L471.8 136.9L477.0 136.2L482.2 135.7L487.4 135.3L492.6 135.0L497.8 134.7L503.0 134.5L508.1 134.3L513.3 134.0L518.5 133.7L523.7 133.4L528.9 133.2L534.1 133.1L539.3 132.9L544.5 132.8L549.7 132.6L554.8 132.5L560.0 132.3L565.2 132.2L570.4 132.1L575.6 132.0L580.8 131.9L586.0 131.8L591.2 131.7L596.4 131.7L601.5 131.6L606.7 131.6L611.9 131.6"/><path clip-path="url(#c5)" class="s4" d="M461.4 122.7L466.6 121.8L471.8 121.0L477.0 120.4L482.2 119.9L487.4 119.5L492.6 119.2L497.8 119.0L503.0 118.8L508.1 118.6L513.3 118.4L518.5 118.1L523.7 117.9L528.9 117.8L534.1 117.8L539.3 117.8L544.5 117.8L549.7 117.8L554.8 117.8L560.0 117.8L565.2 117.8L570.4 117.8L575.6 117.8L580.8 117.8L586.0 117.8L591.2 117.8L596.4 117.8L601.5 117.8L606.7 117.8L611.9 117.8"/><path clip-path="url(#c5)" class="s5" d="M461.4 118.9L466.6 117.8L471.8 116.9L477.0 116.3L482.2 115.8L487.4 115.4L492.6 115.1L497.8 114.8L503.0 114.6L508.1 114.3L513.3 114.1L518.5 114.0L523.7 113.8L528.9 113.8L534.1 113.7L539.3 113.7L544.5 113.7L549.7 113.7L554.8 113.7L560.0 113.7L565.2 113.7L570.4 113.6L575.6 113.6L580.8 113.6L586.0 113.6L591.2 113.6L596.4 113.6L601.5 113.6L606.7 113.6L611.9 113.6"/><path clip-path="url(#c5)" class="s6" d="M461.4 118.2L466.6 116.9L471.8 115.7L477.0 114.7L482.2 114.2L487.4 113.7L492.6 113.4L497.8 113.2L503.0 113.0L508.1 112.9L513.3 112.7L518.5 112.6L523.7 112.5L528.9 112.4L534.1 112.4L539.3 112.3L544.5 112.3L549.7 112.2L554.8 112.2L560.0 112.1L565.2 112.1L570.4 112.1L575.6 112.0L580.8 112.0L586.0 112.0L591.2 112.0L596.4 111.9L601.5 111.9L606.7 111.9L611.9 111.9"/><rect x="453.7" y="109.6" width="160.9" height="53.0" fill="none" stroke="#000" stroke-width="1.2"/><line x1="456.25" y1="162.6" x2="456.25" y2="166.79999999999998" stroke="#000" stroke-width="1.0"/><line x1="508.14" y1="162.6" x2="508.14" y2="166.79999999999998" stroke="#000" stroke-width="1.0"/><line x1="560.03" y1="162.6" x2="560.03" y2="166.79999999999998" stroke="#000" stroke-width="1.0"/><line x1="611.92" y1="162.6" x2="611.92" y2="166.79999999999998" stroke="#000" stroke-width="1.0"/><line x1="449.7" y1="125.6" x2="453.7" y2="125.6" stroke="#000" stroke-width="1.0"/><text x="445.70" y="129.60" text-anchor="end">0.15</text><line x1="449.7" y1="151.9" x2="453.7" y2="151.9" stroke="#000" stroke-width="1.0"/><text x="445.70" y="155.90" text-anchor="end">0.10</text><clipPath id="c6"><rect x="49.65" y="173.8" width="160.9" height="52.89999999999998"/></clipPath><path clip-path="url(#c6)" class="s0" d="M57.4 177.7L62.6 181.8L67.8 177.1L73.0 176.2L78.1 176.2L83.3 176.1L88.5 176.1L93.7 176.1L98.9 176.1L104.1 176.0L109.3 176.0L114.5 176.0L119.7 176.0L124.8 176.0L130.0 176.0L135.2 176.0L140.4 175.9L145.6 175.9L150.8 175.9L156.0 175.9L161.2 175.9L166.4 175.9L171.5 175.9L176.7 175.9L181.9 175.9L187.1 175.9L192.3 175.9L197.5 175.9L202.7 175.9L207.9 175.9"/><path clip-path="url(#c6)" class="s1" d="M57.4 196.3L62.6 196.3L67.8 192.5L73.0 191.3L78.1 190.5L83.3 190.2L88.5 190.1L93.7 189.9L98.9 189.8L104.1 189.7L109.3 189.6L114.5 189.5L119.7 189.4L124.8 189.3L130.0 189.2L135.2 189.1L140.4 189.0L145.6 189.0L150.8 188.9L156.0 188.8L161.2 188.7L166.4 188.7L171.5 188.6L176.7 188.6L181.9 188.5L187.1 188.5L192.3 188.4L197.5 188.4L202.7 188.4L207.9 188.3"/><path clip-path="url(#c6)" class="s2" d="M57.4 210.5L62.6 193.7L67.8 192.5L73.0 186.7L78.1 186.0L83.3 185.7L88.5 185.5L93.7 185.4L98.9 185.3L104.1 185.2L109.3 185.2L114.5 185.1L119.7 185.1L124.8 185.1L130.0 185.1L135.2 185.1L140.4 185.1L145.6 185.1L150.8 185.1L156.0 185.2L161.2 185.2L166.4 185.2L171.5 185.3L176.7 185.3L181.9 185.4L187.1 185.4L192.3 185.5L197.5 185.6L202.7 185.7L207.9 185.8"/><path clip-path="url(#c6)" class="s3" d="M57.4 224.0L62.6 200.7L67.8 191.8L73.0 194.4L78.1 191.8L83.3 191.2L88.5 190.9L93.7 190.6L98.9 190.3L104.1 190.1L109.3 189.8L114.5 189.6L119.7 189.4L124.8 189.3L130.0 189.2L135.2 189.1L140.4 189.0L145.6 188.9L150.8 188.8L156.0 188.7L161.2 188.7L166.4 188.6L171.5 188.5L176.7 188.5L181.9 188.4L187.1 188.4L192.3 188.4L197.5 188.3L202.7 188.3L207.9 188.3"/><path clip-path="url(#c6)" class="s4" d="M57.4 214.2L62.6 204.8L67.8 193.2L73.0 189.3L78.1 186.4L83.3 186.2L88.5 186.1L93.7 186.0L98.9 185.9L104.1 185.7L109.3 185.6L114.5 185.4L119.7 185.3L124.8 185.2L130.0 185.1L135.2 185.1L140.4 185.0L145.6 184.9L150.8 184.9L156.0 184.8L161.2 184.7L166.4 184.7L171.5 184.6L176.7 184.6L181.9 184.5L187.1 184.5L192.3 184.5L197.5 184.4L202.7 184.4L207.9 184.4"/><path clip-path="url(#c6)" class="s5" d="M57.4 186.0L62.6 186.7L67.8 192.6L73.0 192.0L78.1 190.5L83.3 189.9L88.5 189.6L93.7 189.3L98.9 189.0L104.1 188.7L109.3 188.4L114.5 188.2L119.7 188.0L124.8 187.9L130.0 187.9L135.2 187.8L140.4 187.7L145.6 187.7L150.8 187.6L156.0 187.6L161.2 187.6L166.4 187.5L171.5 187.5L176.7 187.5L181.9 187.4L187.1 187.4L192.3 187.4L197.5 187.4L202.7 187.4L207.9 187.4"/><path clip-path="url(#c6)" class="s6" d="M57.4 177.7L62.6 186.7L67.8 191.2L73.0 192.5L78.1 191.8L83.3 191.6L88.5 191.5L93.7 191.3L98.9 191.1L104.1 190.8L109.3 190.5L114.5 190.2L119.7 190.0L124.8 189.9L130.0 189.9L135.2 189.9L140.4 189.9L145.6 189.8L150.8 189.8L156.0 189.8L161.2 189.8L166.4 189.7L171.5 189.7L176.7 189.7L181.9 189.7L187.1 189.7L192.3 189.7L197.5 189.7L202.7 189.7L207.9 189.7"/><rect x="49.65" y="173.8" width="160.9" height="52.89999999999998" fill="none" stroke="#000" stroke-width="1.2"/><line x1="52.20" y1="226.7" x2="52.20" y2="230.89999999999998" stroke="#000" stroke-width="1.0"/><line x1="104.09" y1="226.7" x2="104.09" y2="230.89999999999998" stroke="#000" stroke-width="1.0"/><line x1="155.98" y1="226.7" x2="155.98" y2="230.89999999999998" stroke="#000" stroke-width="1.0"/><line x1="207.87" y1="226.7" x2="207.87" y2="230.89999999999998" stroke="#000" stroke-width="1.0"/><line x1="45.65" y1="188.6" x2="49.65" y2="188.6" stroke="#000" stroke-width="1.0"/><text x="41.65" y="192.60" text-anchor="end">0.94</text><line x1="45.65" y1="215.6" x2="49.65" y2="215.6" stroke="#000" stroke-width="1.0"/><text x="41.65" y="219.60" text-anchor="end">0.92</text><text transform="translate(14.75,200.25) rotate(-90)" text-anchor="middle">Cont.</text><clipPath id="c7"><rect x="251.7" y="173.8" width="160.9" height="52.89999999999998"/></clipPath><path clip-path="url(#c7)" class="s0" d="M259.4 223.9L264.6 223.7L269.8 220.1L275.0 211.7L280.2 210.8L285.4 209.1L290.6 205.7L295.8 204.4L301.0 206.6L306.1 204.0L311.3 204.4L316.5 202.1L321.7 201.5L326.9 200.8L332.1 201.2L337.3 201.3L342.5 201.3L347.7 201.3L352.8 201.4L358.0 201.4L363.2 201.5L368.4 201.8L373.6 202.1L378.8 202.3L384.0 202.5L389.2 202.7L394.4 202.8L399.5 202.9L404.7 203.0L409.9 203.1"/><path clip-path="url(#c7)" class="s1" d="M259.4 186.9L264.6 187.0L269.8 187.0L275.0 187.0L280.2 187.1L285.4 187.1L290.6 187.1L295.8 187.2L301.0 187.2L306.1 187.2L311.3 187.3L316.5 187.3L321.7 187.3L326.9 187.3L332.1 187.4L337.3 187.4L342.5 187.4L347.7 187.4L352.8 187.5L358.0 187.5L363.2 187.5L368.4 187.5L373.6 187.6L378.8 187.6L384.0 187.6L389.2 187.6L394.4 187.7L399.5 187.7L404.7 187.7L409.9 187.7"/><path clip-path="url(#c7)" class="s2" d="M259.4 191.2L264.6 191.1L269.8 190.9L275.0 190.8L280.2 190.7L285.4 190.5L290.6 190.4L295.8 190.4L301.0 190.3L306.1 190.3L311.3 190.3L316.5 190.3L321.7 190.3L326.9 190.3L332.1 190.3L337.3 190.3L342.5 190.3L347.7 190.3L352.8 190.3L358.0 190.3L363.2 190.3L368.4 190.3L373.6 190.3L378.8 190.3L384.0 190.3L389.2 190.3L394.4 190.3L399.5 190.3L404.7 190.3L409.9 190.3"/><path clip-path="url(#c7)" class="s3" d="M259.4 189.3L264.6 189.0L269.8 188.8L275.0 188.5L280.2 188.3L285.4 188.0L290.6 187.7L295.8 187.3L301.0 187.0L306.1 186.7L311.3 186.5L316.5 186.3L321.7 186.1L326.9 186.1L332.1 186.0L337.3 186.0L342.5 186.0L347.7 185.9L352.8 185.9L358.0 185.9L363.2 185.9L368.4 185.8L373.6 185.8L378.8 185.8L384.0 185.8L389.2 185.8L394.4 185.8L399.5 185.8L404.7 185.8L409.9 185.8"/><path clip-path="url(#c7)" class="s4" d="M259.4 176.4L264.6 176.4L269.8 176.4L275.0 176.4L280.2 176.4L285.4 176.4L290.6 176.4L295.8 176.4L301.0 176.5L306.1 176.5L311.3 176.5L316.5 176.5L321.7 176.5L326.9 176.5L332.1 176.5L337.3 176.5L342.5 176.5L347.7 176.5L352.8 176.5L358.0 176.5L363.2 176.5L368.4 176.5L373.6 176.5L378.8 176.5L384.0 176.5L389.2 176.5L394.4 176.5L399.5 176.5L404.7 176.5L409.9 176.5"/><path clip-path="url(#c7)" class="s5" d="M259.4 179.6L264.6 179.5L269.8 179.4L275.0 179.3L280.2 179.2L285.4 179.1L290.6 179.0L295.8 179.0L301.0 178.9L306.1 178.8L311.3 178.8L316.5 178.8L321.7 178.7L326.9 178.7L332.1 178.7L337.3 178.7L342.5 178.7L347.7 178.7L352.8 178.7L358.0 178.7L363.2 178.8L368.4 178.8L373.6 178.8L378.8 178.8L384.0 178.8L389.2 178.8L394.4 178.8L399.5 178.9L404.7 178.9L409.9 178.9"/><path clip-path="url(#c7)" class="s6" d="M259.4 175.9L264.6 175.9L269.8 175.9L275.0 175.9L280.2 175.9L285.4 175.9L290.6 175.9L295.8 175.9L301.0 175.9L306.1 175.9L311.3 175.9L316.5 175.9L321.7 175.9L326.9 175.9L332.1 175.9L337.3 175.9L342.5 175.9L347.7 175.9L352.8 175.9L358.0 175.9L363.2 175.9L368.4 175.9L373.6 175.9L378.8 175.9L384.0 175.9L389.2 175.9L394.4 175.9L399.5 175.9L404.7 175.9L409.9 175.9"/><rect x="251.7" y="173.8" width="160.9" height="52.89999999999998" fill="none" stroke="#000" stroke-width="1.2"/><line x1="254.25" y1="226.7" x2="254.25" y2="230.89999999999998" stroke="#000" stroke-width="1.0"/><line x1="306.14" y1="226.7" x2="306.14" y2="230.89999999999998" stroke="#000" stroke-width="1.0"/><line x1="358.03" y1="226.7" x2="358.03" y2="230.89999999999998" stroke="#000" stroke-width="1.0"/><line x1="409.92" y1="226.7" x2="409.92" y2="230.89999999999998" stroke="#000" stroke-width="1.0"/><line x1="247.7" y1="189.3" x2="251.7" y2="189.3" stroke="#000" stroke-width="1.0"/><text x="243.70" y="193.30" text-anchor="end">0.9</text><line x1="247.7" y1="222.0" x2="251.7" y2="222.0" stroke="#000" stroke-width="1.0"/><text x="243.70" y="226.00" text-anchor="end">0.8</text><clipPath id="c8"><rect x="453.7" y="173.8" width="160.9" height="52.89999999999998"/></clipPath><path clip-path="url(#c8)" class="s0" d="M461.4 224.2L466.6 217.5L471.8 215.2L477.0 212.4L482.2 210.8L487.4 209.2L492.6 208.3L497.8 207.2L503.0 206.6L508.1 206.2L513.3 205.9L518.5 205.7L523.7 205.5L528.9 205.3L534.1 205.2L539.3 204.9L544.5 204.7L549.7 204.4L554.8 204.1L560.0 203.9L565.2 203.6L570.4 203.4L575.6 203.2L580.8 203.0L586.0 202.8L591.2 202.7L596.4 202.5L601.5 202.4L606.7 202.3L611.9 202.2"/><path clip-path="url(#c8)" class="s1" d="M461.4 190.6L466.6 187.4L471.8 187.1L477.0 186.9L482.2 186.7L487.4 186.5L492.6 186.4L497.8 186.3L503.0 186.2L508.1 186.1L513.3 186.1L518.5 186.1L523.7 186.1L528.9 186.1L534.1 186.0L539.3 186.0L544.5 186.0L549.7 186.0L554.8 186.0L560.0 186.0L565.2 186.0L570.4 186.0L575.6 186.0L580.8 186.0L586.0 186.0L591.2 186.0L596.4 186.0L601.5 186.0L606.7 186.0L611.9 186.0"/><path clip-path="url(#c8)" class="s2" d="M461.4 189.3L466.6 189.3L471.8 189.3L477.0 189.3L482.2 189.3L487.4 189.3L492.6 189.3L497.8 189.3L503.0 189.3L508.1 189.3L513.3 189.3L518.5 189.3L523.7 189.3L528.9 189.3L534.1 189.3L539.3 189.3L544.5 189.3L549.7 189.3L554.8 189.2L560.0 189.2L565.2 189.2L570.4 189.2L575.6 189.2L580.8 189.2L586.0 189.1L591.2 189.1L596.4 189.1L601.5 189.1L606.7 189.0L611.9 189.0"/><path clip-path="url(#c8)" class="s3" d="M461.4 189.0L466.6 188.9L471.8 188.8L477.0 188.7L482.2 188.6L487.4 188.5L492.6 188.4L497.8 188.3L503.0 188.2L508.1 188.2L513.3 188.1L518.5 188.1L523.7 188.0L528.9 188.0L534.1 188.0L539.3 187.9L544.5 187.9L549.7 187.9L554.8 187.9L560.0 187.8L565.2 187.8L570.4 187.8L575.6 187.8L580.8 187.8L586.0 187.7L591.2 187.7L596.4 187.7L601.5 187.7L606.7 187.7L611.9 187.7"/><path clip-path="url(#c8)" class="s4" d="M461.4 179.2L466.6 179.2L471.8 179.3L477.0 179.3L482.2 179.3L487.4 179.3L492.6 179.3L497.8 179.3L503.0 179.3L508.1 179.3L513.3 179.3L518.5 179.3L523.7 179.3L528.9 179.3L534.1 179.4L539.3 179.4L544.5 179.4L549.7 179.4L554.8 179.4L560.0 179.4L565.2 179.4L570.4 179.4L575.6 179.4L580.8 179.4L586.0 179.4L591.2 179.4L596.4 179.4L601.5 179.5L606.7 179.5L611.9 179.5"/><path clip-path="url(#c8)" class="s5" d="M461.4 175.8L466.6 175.8L471.8 175.8L477.0 175.8L482.2 175.7L487.4 175.7L492.6 175.7L497.8 175.7L503.0 175.7L508.1 175.7L513.3 175.7L518.5 175.7L523.7 175.7L528.9 175.7L534.1 175.7L539.3 175.7L544.5 175.6L549.7 175.6L554.8 175.6L560.0 175.6L565.2 175.6L570.4 175.6L575.6 175.6L580.8 175.6L586.0 175.6L591.2 175.6L596.4 175.6L601.5 175.5L606.7 175.5L611.9 175.5"/><path clip-path="url(#c8)" class="s6" d="M461.4 177.1L466.6 177.1L471.8 177.1L477.0 177.1L482.2 177.1L487.4 177.1L492.6 177.1L497.8 177.1L503.0 177.1L508.1 177.1L513.3 177.1L518.5 177.1L523.7 177.1L528.9 177.1L534.1 177.1L539.3 177.1L544.5 177.1L549.7 177.2L554.8 177.2L560.0 177.2L565.2 177.2L570.4 177.2L575.6 177.2L580.8 177.2L586.0 177.2L591.2 177.2L596.4 177.2L601.5 177.2L606.7 177.2L611.9 177.2"/><rect x="453.7" y="173.8" width="160.9" height="52.89999999999998" fill="none" stroke="#000" stroke-width="1.2"/><line x1="456.25" y1="226.7" x2="456.25" y2="230.89999999999998" stroke="#000" stroke-width="1.0"/><line x1="508.14" y1="226.7" x2="508.14" y2="230.89999999999998" stroke="#000" stroke-width="1.0"/><line x1="560.03" y1="226.7" x2="560.03" y2="230.89999999999998" stroke="#000" stroke-width="1.0"/><line x1="611.92" y1="226.7" x2="611.92" y2="230.89999999999998" stroke="#000" stroke-width="1.0"/><line x1="449.7" y1="192.9" x2="453.7" y2="192.9" stroke="#000" stroke-width="1.0"/><text x="445.70" y="196.90" text-anchor="end">0.9</text><line x1="449.7" y1="225.5" x2="453.7" y2="225.5" stroke="#000" stroke-width="1.0"/><text x="445.70" y="229.50" text-anchor="end">0.8</text><clipPath id="c9"><rect x="49.65" y="238.4" width="160.9" height="52.900000000000006"/></clipPath><path clip-path="url(#c9)" class="s0" d="M57.4 251.1L62.6 252.9L67.8 244.6L73.0 242.8L78.1 241.7L83.3 241.4L88.5 241.2L93.7 241.1L98.9 241.0L104.1 240.9L109.3 240.9L114.5 240.8L119.7 240.8L124.8 240.8L130.0 240.8L135.2 240.8L140.4 240.8L145.6 240.8L150.8 240.8L156.0 240.8L161.2 240.8L166.4 240.8L171.5 240.8L176.7 240.8L181.9 240.8L187.1 240.8L192.3 240.9L197.5 240.9L202.7 240.9L207.9 240.9"/><path clip-path="url(#c9)" class="s1" d="M57.4 279.3L62.6 282.5L67.8 270.3L73.0 263.2L78.1 260.7L83.3 258.7L88.5 258.2L93.7 257.5L98.9 256.8L104.1 256.2L109.3 256.0L114.5 255.8L119.7 255.6L124.8 255.6L130.0 255.6L135.2 255.6L140.4 255.6L145.6 255.6L150.8 255.6L156.0 255.6L161.2 255.6L166.4 255.6L171.5 255.6L176.7 255.7L181.9 255.7L187.1 255.7L192.3 255.8L197.5 255.8L202.7 255.9L207.9 256.0"/><path clip-path="url(#c9)" class="s2" d="M57.4 283.2L62.6 276.0L67.8 260.7L73.0 251.7L78.1 249.4L83.3 248.8L88.5 248.5L93.7 248.4L98.9 248.4L104.1 248.4L109.3 248.4L114.5 248.4L119.7 248.4L124.8 248.4L130.0 248.4L135.2 248.5L140.4 248.5L145.6 248.5L150.8 248.5L156.0 248.6L161.2 248.6L166.4 248.7L171.5 248.7L176.7 248.8L181.9 248.8L187.1 248.9L192.3 249.0L197.5 249.1L202.7 249.1L207.9 249.2"/><path clip-path="url(#c9)" class="s3" d="M57.4 289.0L62.6 279.3L67.8 265.9L73.0 261.4L78.1 258.7L83.3 255.6L88.5 256.2L93.7 255.6L98.9 254.2L104.1 253.6L109.3 253.6L114.5 253.6L119.7 253.6L124.8 253.6L130.0 253.6L135.2 253.6L140.4 253.6L145.6 253.6L150.8 253.6L156.0 253.6L161.2 253.7L166.4 253.7L171.5 253.7L176.7 253.8L181.9 253.8L187.1 253.8L192.3 253.9L197.5 253.9L202.7 253.9L207.9 254.0"/><path clip-path="url(#c9)" class="s4" d="M57.4 252.9L62.6 265.9L67.8 256.2L73.0 250.4L78.1 247.9L83.3 247.0L88.5 246.3L93.7 245.9L98.9 245.6L104.1 245.3L109.3 245.1L114.5 244.9L119.7 244.8L124.8 244.6L130.0 244.5L135.2 244.3L140.4 244.2L145.6 244.1L150.8 243.9L156.0 243.8L161.2 243.7L166.4 243.6L171.5 243.5L176.7 243.4L181.9 243.3L187.1 243.3L192.3 243.2L197.5 243.2L202.7 243.2L207.9 243.2"/><path clip-path="url(#c9)" class="s5" d="M57.4 253.6L62.6 255.6L67.8 250.7L73.0 248.7L78.1 248.0L83.3 247.8L88.5 247.5L93.7 247.3L98.9 247.2L104.1 247.0L109.3 246.9L114.5 246.8L119.7 246.7L124.8 246.6L130.0 246.5L135.2 246.4L140.4 246.3L145.6 246.2L150.8 246.1L156.0 246.0L161.2 245.9L166.4 245.8L171.5 245.7L176.7 245.6L181.9 245.5L187.1 245.5L192.3 245.4L197.5 245.3L202.7 245.3L207.9 245.3"/><path clip-path="url(#c9)" class="s6" d="M57.4 247.8L62.6 256.9L67.8 251.1L73.0 250.4L78.1 249.8L83.3 249.5L88.5 249.3L93.7 249.1L98.9 248.9L104.1 248.6L109.3 248.3L114.5 248.1L119.7 247.9L124.8 247.8L130.0 247.7L135.2 247.6L140.4 247.6L145.6 247.5L150.8 247.4L156.0 247.4L161.2 247.3L166.4 247.3L171.5 247.3L176.7 247.2L181.9 247.2L187.1 247.2L192.3 247.1L197.5 247.1L202.7 247.1L207.9 247.1"/><rect x="49.65" y="238.4" width="160.9" height="52.900000000000006" fill="none" stroke="#000" stroke-width="1.2"/><line x1="52.20" y1="291.3" x2="52.20" y2="295.5" stroke="#000" stroke-width="1.0"/><line x1="104.09" y1="291.3" x2="104.09" y2="295.5" stroke="#000" stroke-width="1.0"/><line x1="155.98" y1="291.3" x2="155.98" y2="295.5" stroke="#000" stroke-width="1.0"/><line x1="207.87" y1="291.3" x2="207.87" y2="295.5" stroke="#000" stroke-width="1.0"/><line x1="45.65" y1="252.0" x2="49.65" y2="252.0" stroke="#000" stroke-width="1.0"/><text x="41.65" y="256.00" text-anchor="end">0.96</text><line x1="45.65" y1="278.4" x2="49.65" y2="278.4" stroke="#000" stroke-width="1.0"/><text x="41.65" y="282.40" text-anchor="end">0.94</text><text transform="translate(14.75,264.85) rotate(-90)" text-anchor="middle">Trust.</text><clipPath id="c10"><rect x="251.7" y="238.4" width="160.9" height="52.900000000000006"/></clipPath><path clip-path="url(#c10)" class="s0" d="M259.4 286.1L264.6 288.9L269.8 280.6L275.0 273.3L280.2 271.0L285.4 265.9L290.6 265.9L295.8 263.0L301.0 262.0L306.1 260.7L311.3 260.4L316.5 258.7L321.7 256.8L326.9 256.2L332.1 255.0L337.3 254.7L342.5 254.5L347.7 254.3L352.8 254.2L358.0 254.0L363.2 253.9L368.4 253.6L373.6 253.4L378.8 253.3L384.0 253.1L389.2 253.0L394.4 252.9L399.5 252.8L404.7 252.8L409.9 252.8"/><path clip-path="url(#c10)" class="s1" d="M259.4 265.8L264.6 263.9L269.8 262.0L275.0 260.5L280.2 259.4L285.4 258.8L290.6 258.4L295.8 258.1L301.0 258.0L306.1 257.9L311.3 257.8L316.5 257.7L321.7 257.6L326.9 257.6L332.1 257.6L337.3 257.6L342.5 257.6L347.7 257.6L352.8 257.6L358.0 257.6L363.2 257.6L368.4 257.6L373.6 257.6L378.8 257.6L384.0 257.6L389.2 257.6L394.4 257.6L399.5 257.6L404.7 257.6L409.9 257.6"/><path clip-path="url(#c10)" class="s2" d="M259.4 268.1L264.6 264.6L269.8 262.6L275.0 261.8L280.2 261.3L285.4 261.1L290.6 261.0L295.8 260.9L301.0 260.8L306.1 260.7L311.3 260.5L316.5 260.3L321.7 260.1L326.9 260.0L332.1 260.0L337.3 260.0L342.5 260.0L347.7 260.0L352.8 260.0L358.0 260.0L363.2 260.0L368.4 259.9L373.6 259.9L378.8 259.9L384.0 259.9L389.2 259.9L394.4 259.9L399.5 259.9L404.7 259.9L409.9 259.9"/><path clip-path="url(#c10)" class="s3" d="M259.4 256.8L264.6 255.5L269.8 254.2L275.0 253.0L280.2 252.2L285.4 251.6L290.6 251.0L295.8 250.6L301.0 250.4L306.1 250.2L311.3 249.9L316.5 249.5L321.7 249.2L326.9 249.1L332.1 249.1L337.3 249.0L342.5 249.0L347.7 249.0L352.8 248.9L358.0 248.9L363.2 248.9L368.4 248.9L373.6 248.8L378.8 248.8L384.0 248.8L389.2 248.8L394.4 248.8L399.5 248.8L404.7 248.8L409.9 248.8"/><path clip-path="url(#c10)" class="s4" d="M259.4 247.9L264.6 247.3L269.8 246.7L275.0 246.3L280.2 246.0L285.4 245.8L290.6 245.5L295.8 245.3L301.0 245.2L306.1 245.0L311.3 244.9L316.5 244.8L321.7 244.7L326.9 244.7L332.1 244.6L337.3 244.6L342.5 244.6L347.7 244.6L352.8 244.6L358.0 244.5L363.2 244.5L368.4 244.5L373.6 244.5L378.8 244.5L384.0 244.5L389.2 244.5L394.4 244.5L399.5 244.5L404.7 244.5L409.9 244.5"/><path clip-path="url(#c10)" class="s5" d="M259.4 246.6L264.6 246.0L269.8 245.5L275.0 244.9L280.2 244.3L285.4 243.7L290.6 243.1L295.8 242.6L301.0 242.2L306.1 242.1L311.3 242.0L316.5 242.0L321.7 241.9L326.9 241.9L332.1 241.9L337.3 241.9L342.5 241.9L347.7 241.9L352.8 241.9L358.0 242.0L363.2 242.0L368.4 242.0L373.6 242.0L378.8 242.0L384.0 242.0L389.2 242.1L394.4 242.1L399.5 242.1L404.7 242.2L409.9 242.2"/><path clip-path="url(#c10)" class="s6" d="M259.4 244.7L264.6 243.6L269.8 242.7L275.0 242.2L280.2 241.8L285.4 241.4L290.6 241.2L295.8 241.0L301.0 240.9L306.1 240.8L311.3 240.6L316.5 240.5L321.7 240.4L326.9 240.4L332.1 240.4L337.3 240.4L342.5 240.4L347.7 240.4L352.8 240.4L358.0 240.4L363.2 240.4L368.4 240.4L373.6 240.4L378.8 240.4L384.0 240.4L389.2 240.4L394.4 240.5L399.5 240.5L404.7 240.5L409.9 240.5"/><rect x="251.7" y="238.4" width="160.9" height="52.900000000000006" fill="none" stroke="#000" stroke-width="1.2"/><line x1="254.25" y1="291.3" x2="254.25" y2="295.5" stroke="#000" stroke-width="1.0"/><line x1="306.14" y1="291.3" x2="306.14" y2="295.5" stroke="#000" stroke-width="1.0"/><line x1="358.03" y1="291.3" x2="358.03" y2="295.5" stroke="#000" stroke-width="1.0"/><line x1="409.92" y1="291.3" x2="409.92" y2="295.5" stroke="#000" stroke-width="1.0"/><line x1="247.7" y1="251.7" x2="251.7" y2="251.7" stroke="#000" stroke-width="1.0"/><text x="243.70" y="255.70" text-anchor="end">0.90</text><line x1="247.7" y1="282.6" x2="251.7" y2="282.6" stroke="#000" stroke-width="1.0"/><text x="243.70" y="286.60" text-anchor="end">0.85</text><clipPath id="c11"><rect x="453.7" y="238.4" width="160.9" height="52.900000000000006"/></clipPath><path clip-path="url(#c11)" class="s0" d="M461.4 288.9L466.6 286.4L471.8 281.9L477.0 276.4L482.2 274.2L487.4 272.2L492.6 269.0L497.8 265.8L503.0 264.3L508.1 263.0L513.3 262.0L518.5 260.7L523.7 259.4L528.9 258.1L534.1 256.7L539.3 255.9L544.5 255.4L549.7 255.0L554.8 254.7L560.0 254.4L565.2 254.2L570.4 254.1L575.6 253.9L580.8 253.8L586.0 253.6L591.2 253.5L596.4 253.4L601.5 253.3L606.7 253.2L611.9 253.1"/><path clip-path="url(#c11)" class="s1" d="M461.4 254.9L466.6 254.5L471.8 254.0L477.0 253.6L482.2 253.2L487.4 252.8L492.6 252.5L497.8 252.1L503.0 251.8L508.1 251.6L513.3 251.3L518.5 251.2L523.7 251.1L528.9 251.0L534.1 251.0L539.3 251.0L544.5 251.0L549.7 251.0L554.8 251.0L560.0 251.0L565.2 251.0L570.4 251.0L575.6 251.0L580.8 251.0L586.0 251.0L591.2 251.0L596.4 251.0L601.5 251.0L606.7 251.0L611.9 251.0"/><path clip-path="url(#c11)" class="s2" d="M461.4 257.1L466.6 256.6L471.8 256.2L477.0 255.8L482.2 255.3L487.4 254.9L492.6 254.5L497.8 254.2L503.0 253.9L508.1 253.6L513.3 253.3L518.5 253.2L523.7 253.0L528.9 253.0L534.1 252.9L539.3 252.9L544.5 252.9L549.7 252.9L554.8 252.8L560.0 252.8L565.2 252.8L570.4 252.8L575.6 252.8L580.8 252.7L586.0 252.7L591.2 252.7L596.4 252.7L601.5 252.7L606.7 252.7L611.9 252.7"/><path clip-path="url(#c11)" class="s3" d="M461.4 252.7L466.6 252.3L471.8 251.9L477.0 251.6L482.2 251.2L487.4 250.8L492.6 250.5L497.8 250.2L503.0 249.9L508.1 249.7L513.3 249.5L518.5 249.3L523.7 249.2L528.9 249.1L534.1 249.1L539.3 249.1L544.5 249.0L549.7 249.0L554.8 248.9L560.0 248.9L565.2 248.9L570.4 248.9L575.6 248.8L580.8 248.8L586.0 248.8L591.2 248.8L596.4 248.8L601.5 248.8L606.7 248.8L611.9 248.8"/><path clip-path="url(#c11)" class="s4" d="M461.4 244.2L466.6 244.1L471.8 244.0L477.0 243.8L482.2 243.7L487.4 243.6L492.6 243.5L497.8 243.4L503.0 243.3L508.1 243.2L513.3 243.1L518.5 243.1L523.7 243.0L528.9 243.0L534.1 242.9L539.3 242.9L544.5 242.9L549.7 242.8L554.8 242.8L560.0 242.8L565.2 242.7L570.4 242.7L575.6 242.7L580.8 242.7L586.0 242.7L591.2 242.7L596.4 242.6L601.5 242.6L606.7 242.6L611.9 242.6"/><path clip-path="url(#c11)" class="s5" d="M461.4 242.4L466.6 242.2L471.8 242.0L477.0 241.9L482.2 241.7L487.4 241.6L492.6 241.5L497.8 241.3L503.0 241.2L508.1 241.1L513.3 241.0L518.5 241.0L523.7 240.9L528.9 240.9L534.1 240.9L539.3 240.8L544.5 240.8L549.7 240.8L554.8 240.8L560.0 240.8L565.2 240.8L570.4 240.7L575.6 240.7L580.8 240.7L586.0 240.7L591.2 240.7L596.4 240.7L601.5 240.7L606.7 240.7L611.9 240.7"/><path clip-path="url(#c11)" class="s6" d="M461.4 242.1L466.6 241.9L471.8 241.8L477.0 241.7L482.2 241.5L487.4 241.4L492.6 241.3L497.8 241.2L503.0 241.1L508.1 241.0L513.3 240.9L518.5 240.9L523.7 240.8L528.9 240.8L534.1 240.7L539.3 240.7L544.5 240.7L549.7 240.7L554.8 240.6L560.0 240.6L565.2 240.6L570.4 240.6L575.6 240.6L580.8 240.6L586.0 240.5L591.2 240.5L596.4 240.5L601.5 240.5L606.7 240.5L611.9 240.5"/><rect x="453.7" y="238.4" width="160.9" height="52.900000000000006" fill="none" stroke="#000" stroke-width="1.2"/><line x1="456.25" y1="291.3" x2="456.25" y2="295.5" stroke="#000" stroke-width="1.0"/><line x1="508.14" y1="291.3" x2="508.14" y2="295.5" stroke="#000" stroke-width="1.0"/><line x1="560.03" y1="291.3" x2="560.03" y2="295.5" stroke="#000" stroke-width="1.0"/><line x1="611.92" y1="291.3" x2="611.92" y2="295.5" stroke="#000" stroke-width="1.0"/><line x1="449.7" y1="253.9" x2="453.7" y2="253.9" stroke="#000" stroke-width="1.0"/><text x="445.70" y="257.90" text-anchor="end">0.90</text><line x1="449.7" y1="272.5" x2="453.7" y2="272.5" stroke="#000" stroke-width="1.0"/><text x="445.70" y="276.50" text-anchor="end">0.85</text><clipPath id="c12"><rect x="49.65" y="303.9" width="160.9" height="53.10000000000002"/></clipPath><path clip-path="url(#c12)" class="s0" d="M57.4 346.5L62.6 344.6L67.8 351.7L73.0 353.0L78.1 353.7L83.3 353.7L88.5 353.7L93.7 353.7L98.9 353.7L104.1 353.8L109.3 354.0L114.5 354.1L119.7 354.3L124.8 354.3L130.0 354.3L135.2 354.4L140.4 354.4L145.6 354.4L150.8 354.4L156.0 354.4L161.2 354.4L166.4 354.5L171.5 354.5L176.7 354.5L181.9 354.5L187.1 354.5L192.3 354.5L197.5 354.5L202.7 354.5L207.9 354.5"/><path clip-path="url(#c12)" class="s1" d="M57.4 324.0L62.6 320.1L67.8 327.2L73.0 333.6L78.1 335.6L83.3 337.6L88.5 338.8L93.7 340.1L98.9 339.4L104.1 339.4L109.3 339.5L114.5 339.6L119.7 339.7L124.8 339.8L130.0 339.8L135.2 339.8L140.4 339.8L145.6 339.8L150.8 339.8L156.0 339.7L161.2 339.7L166.4 339.7L171.5 339.7L176.7 339.7L181.9 339.7L187.1 339.6L192.3 339.6L197.5 339.5L202.7 339.5L207.9 339.4"/><path clip-path="url(#c12)" class="s2" d="M57.4 316.3L62.6 327.8L67.8 335.0L73.0 340.1L78.1 342.1L83.3 343.4L88.5 343.8L93.7 344.1L98.9 344.3L104.1 344.6L109.3 344.8L114.5 345.0L119.7 345.1L124.8 345.2L130.0 345.3L135.2 345.3L140.4 345.3L145.6 345.4L150.8 345.4L156.0 345.4L161.2 345.5L166.4 345.5L171.5 345.5L176.7 345.5L181.9 345.5L187.1 345.5L192.3 345.5L197.5 345.5L202.7 345.6L207.9 345.6"/><path clip-path="url(#c12)" class="s3" d="M57.4 306.3L62.6 320.7L67.8 332.3L73.0 334.3L78.1 335.6L83.3 337.6L88.5 338.6L93.7 338.8L98.9 339.4L104.1 340.8L109.3 340.9L114.5 341.0L119.7 341.1L124.8 341.1L130.0 341.1L135.2 341.1L140.4 341.1L145.6 341.2L150.8 341.2L156.0 341.2L161.2 341.2L166.4 341.2L171.5 341.2L176.7 341.2L181.9 341.2L187.1 341.2L192.3 341.2L197.5 341.2L202.7 341.3L207.9 341.3"/><path clip-path="url(#c12)" class="s4" d="M57.4 327.2L62.6 324.7L67.8 336.9L73.0 342.1L78.1 345.9L83.3 346.5L88.5 346.9L93.7 347.2L98.9 347.4L104.1 347.5L109.3 347.6L114.5 347.7L119.7 347.8L124.8 347.9L130.0 347.9L135.2 347.9L140.4 348.0L145.6 348.0L150.8 348.0L156.0 348.1L161.2 348.1L166.4 348.1L171.5 348.1L176.7 348.2L181.9 348.2L187.1 348.2L192.3 348.2L197.5 348.2L202.7 348.2L207.9 348.2"/><path clip-path="url(#c12)" class="s5" d="M57.4 342.1L62.6 340.1L67.8 339.4L73.0 340.8L78.1 341.4L83.3 341.7L88.5 341.9L93.7 342.1L98.9 342.4L104.1 342.8L109.3 343.2L114.5 343.6L119.7 343.9L124.8 344.1L130.0 344.1L135.2 344.2L140.4 344.3L145.6 344.4L150.8 344.4L156.0 344.5L161.2 344.5L166.4 344.6L171.5 344.6L176.7 344.6L181.9 344.7L187.1 344.7L192.3 344.7L197.5 344.7L202.7 344.7L207.9 344.7"/><path clip-path="url(#c12)" class="s6" d="M57.4 348.5L62.6 338.8L67.8 339.4L73.0 340.8L78.1 341.4L83.3 342.0L88.5 342.4L93.7 342.7L98.9 342.9L104.1 343.1L109.3 343.2L114.5 343.3L119.7 343.4L124.8 343.4L130.0 343.4L135.2 343.4L140.4 343.4L145.6 343.4L150.8 343.4L156.0 343.4L161.2 343.4L166.4 343.4L171.5 343.4L176.7 343.4L181.9 343.4L187.1 343.4L192.3 343.4L197.5 343.4L202.7 343.4L207.9 343.4"/><rect x="49.65" y="303.9" width="160.9" height="53.10000000000002" fill="none" stroke="#000" stroke-width="1.2"/><line x1="52.20" y1="357.0" x2="52.20" y2="361.2" stroke="#000" stroke-width="1.0"/><line x1="104.09" y1="357.0" x2="104.09" y2="361.2" stroke="#000" stroke-width="1.0"/><line x1="155.98" y1="357.0" x2="155.98" y2="361.2" stroke="#000" stroke-width="1.0"/><line x1="207.87" y1="357.0" x2="207.87" y2="361.2" stroke="#000" stroke-width="1.0"/><line x1="45.65" y1="306.0" x2="49.65" y2="306.0" stroke="#000" stroke-width="1.0"/><text x="41.65" y="310.00" text-anchor="end">0.06</text><line x1="45.65" y1="339.1" x2="49.65" y2="339.1" stroke="#000" stroke-width="1.0"/><text x="41.65" y="343.10" text-anchor="end">0.04</text><text transform="translate(14.75,330.45) rotate(-90)" text-anchor="middle">MRRE</text><clipPath id="c13"><rect x="251.7" y="303.9" width="160.9" height="53.10000000000002"/></clipPath><path clip-path="url(#c13)" class="s0" d="M259.4 307.1L264.6 306.2L269.8 312.9L275.0 319.9L280.2 321.8L285.4 324.4L290.6 327.0L295.8 328.9L301.0 328.2L306.1 330.2L311.3 330.8L316.5 332.7L321.7 334.1L326.9 334.7L332.1 335.0L337.3 335.0L342.5 335.0L347.7 335.1L352.8 335.1L358.0 335.1L363.2 335.1L368.4 335.1L373.6 335.1L378.8 335.1L384.0 335.2L389.2 335.2L394.4 335.2L399.5 335.2L404.7 335.2L409.9 335.2"/><path clip-path="url(#c13)" class="s1" d="M259.4 336.6L264.6 337.3L269.8 338.0L275.0 338.5L280.2 338.9L285.4 339.3L290.6 339.6L295.8 339.8L301.0 340.1L306.1 340.3L311.3 340.5L316.5 340.7L321.7 340.8L326.9 340.8L332.1 340.8L337.3 340.9L342.5 340.9L347.7 340.9L352.8 340.9L358.0 340.9L363.2 340.9L368.4 340.9L373.6 340.9L378.8 340.9L384.0 340.9L389.2 340.9L394.4 340.9L399.5 340.9L404.7 340.9L409.9 340.9"/><path clip-path="url(#c13)" class="s2" d="M259.4 334.9L264.6 336.0L269.8 336.7L275.0 337.2L280.2 337.5L285.4 337.7L290.6 337.8L295.8 337.9L301.0 338.0L306.1 338.1L311.3 338.2L316.5 338.3L321.7 338.4L326.9 338.4L332.1 338.4L337.3 338.4L342.5 338.4L347.7 338.4L352.8 338.4L358.0 338.4L363.2 338.4L368.4 338.4L373.6 338.4L378.8 338.4L384.0 338.4L389.2 338.4L394.4 338.4L399.5 338.3L404.7 338.3L409.9 338.3"/><path clip-path="url(#c13)" class="s3" d="M259.4 338.5L264.6 339.8L269.8 340.9L275.0 341.7L280.2 342.5L285.4 343.0L290.6 343.4L295.8 343.7L301.0 344.0L306.1 344.3L311.3 344.5L316.5 344.7L321.7 344.8L326.9 344.9L332.1 344.9L337.3 344.9L342.5 344.9L347.7 344.9L352.8 344.9L358.0 344.9L363.2 344.9L368.4 344.9L373.6 344.9L378.8 344.9L384.0 344.9L389.2 344.9L394.4 344.9L399.5 344.9L404.7 344.9L409.9 344.9"/><path clip-path="url(#c13)" class="s4" d="M259.4 349.4L264.6 349.7L269.8 349.9L275.0 350.2L280.2 350.4L285.4 350.6L290.6 350.8L295.8 351.0L301.0 351.2L306.1 351.3L311.3 351.5L316.5 351.6L321.7 351.6L326.9 351.7L332.1 351.7L337.3 351.7L342.5 351.7L347.7 351.7L352.8 351.7L358.0 351.8L363.2 351.8L368.4 351.8L373.6 351.8L378.8 351.8L384.0 351.8L389.2 351.8L394.4 351.8L399.5 351.8L404.7 351.8L409.9 351.8"/><path clip-path="url(#c13)" class="s5" d="M259.4 350.3L264.6 350.6L269.8 350.9L275.0 351.1L280.2 351.4L285.4 351.6L290.6 351.9L295.8 352.1L301.0 352.3L306.1 352.4L311.3 352.6L316.5 352.7L321.7 352.8L326.9 352.8L332.1 352.9L337.3 352.9L342.5 352.9L347.7 353.0L352.8 353.0L358.0 353.0L363.2 353.0L368.4 353.0L373.6 353.1L378.8 353.1L384.0 353.1L389.2 353.1L394.4 353.1L399.5 353.1L404.7 353.1L409.9 353.1"/><path clip-path="url(#c13)" class="s6" d="M259.4 352.7L264.6 352.9L269.8 353.2L275.0 353.4L280.2 353.6L285.4 353.9L290.6 354.1L295.8 354.2L301.0 354.4L306.1 354.6L311.3 354.7L316.5 354.8L321.7 354.8L326.9 354.9L332.1 354.9L337.3 354.9L342.5 354.9L347.7 354.9L352.8 354.9L358.0 354.9L363.2 354.9L368.4 354.9L373.6 354.9L378.8 354.9L384.0 354.9L389.2 354.9L394.4 354.9L399.5 354.9L404.7 354.9L409.9 354.9"/><rect x="251.7" y="303.9" width="160.9" height="53.10000000000002" fill="none" stroke="#000" stroke-width="1.2"/><line x1="254.25" y1="357.0" x2="254.25" y2="361.2" stroke="#000" stroke-width="1.0"/><line x1="306.14" y1="357.0" x2="306.14" y2="361.2" stroke="#000" stroke-width="1.0"/><line x1="358.03" y1="357.0" x2="358.03" y2="361.2" stroke="#000" stroke-width="1.0"/><line x1="409.92" y1="357.0" x2="409.92" y2="361.2" stroke="#000" stroke-width="1.0"/><line x1="247.7" y1="308.4" x2="251.7" y2="308.4" stroke="#000" stroke-width="1.0"/><text x="243.70" y="312.40" text-anchor="end">0.15</text><line x1="247.7" y1="333.7" x2="251.7" y2="333.7" stroke="#000" stroke-width="1.0"/><text x="243.70" y="337.70" text-anchor="end">0.10</text><clipPath id="c14"><rect x="453.7" y="303.9" width="160.9" height="53.10000000000002"/></clipPath><path clip-path="url(#c14)" class="s0" d="M461.4 306.3L466.6 310.5L471.8 313.5L477.0 318.0L482.2 320.3L487.4 322.2L492.6 324.5L497.8 327.1L503.0 328.7L508.1 329.4L513.3 330.3L518.5 331.2L523.7 331.6L528.9 332.6L534.1 333.5L539.3 333.9L544.5 334.2L549.7 334.4L554.8 334.6L560.0 334.8L565.2 335.0L570.4 335.2L575.6 335.3L580.8 335.5L586.0 335.7L591.2 335.9L596.4 336.0L601.5 336.2L606.7 336.3L611.9 336.5"/><path clip-path="url(#c14)" class="s1" d="M461.4 341.6L466.6 342.0L471.8 342.3L477.0 342.6L482.2 342.9L487.4 343.3L492.6 343.5L497.8 343.8L503.0 344.0L508.1 344.2L513.3 344.4L518.5 344.5L523.7 344.6L528.9 344.6L534.1 344.6L539.3 344.6L544.5 344.6L549.7 344.6L554.8 344.6L560.0 344.6L565.2 344.6L570.4 344.6L575.6 344.6L580.8 344.6L586.0 344.6L591.2 344.6L596.4 344.6L601.5 344.6L606.7 344.6L611.9 344.6"/><path clip-path="url(#c14)" class="s2" d="M461.4 339.4L466.6 339.7L471.8 340.0L477.0 340.3L482.2 340.6L487.4 340.8L492.6 341.1L497.8 341.3L503.0 341.5L508.1 341.7L513.3 341.8L518.5 341.9L523.7 342.0L528.9 342.0L534.1 342.0L539.3 342.0L544.5 342.0L549.7 342.0L554.8 342.0L560.0 342.0L565.2 342.0L570.4 342.0L575.6 342.0L580.8 342.0L586.0 342.0L591.2 342.0L596.4 342.0L601.5 342.0L606.7 342.0L611.9 342.0"/><path clip-path="url(#c14)" class="s3" d="M461.4 341.1L466.6 341.4L471.8 341.8L477.0 342.1L482.2 342.4L487.4 342.7L492.6 342.9L497.8 343.2L503.0 343.4L508.1 343.6L513.3 343.8L518.5 343.9L523.7 343.9L528.9 344.0L534.1 344.0L539.3 344.0L544.5 344.0L549.7 344.0L554.8 344.0L560.0 344.0L565.2 344.0L570.4 344.0L575.6 344.0L580.8 344.0L586.0 344.0L591.2 344.0L596.4 344.0L601.5 343.9L606.7 343.9L611.9 343.9"/><path clip-path="url(#c14)" class="s4" d="M461.4 351.1L466.6 351.2L471.8 351.2L477.0 351.3L482.2 351.4L487.4 351.4L492.6 351.5L497.8 351.5L503.0 351.6L508.1 351.6L513.3 351.7L518.5 351.7L523.7 351.7L528.9 351.7L534.1 351.7L539.3 351.8L544.5 351.8L549.7 351.8L554.8 351.8L560.0 351.8L565.2 351.8L570.4 351.8L575.6 351.8L580.8 351.8L586.0 351.8L591.2 351.8L596.4 351.8L601.5 351.8L606.7 351.8L611.9 351.8"/><path clip-path="url(#c14)" class="s5" d="M461.4 352.4L466.6 352.5L471.8 352.7L477.0 352.8L482.2 352.9L487.4 353.1L492.6 353.2L497.8 353.3L503.0 353.4L508.1 353.5L513.3 353.6L518.5 353.7L523.7 353.8L528.9 353.9L534.1 354.0L539.3 354.1L544.5 354.1L549.7 354.2L554.8 354.3L560.0 354.4L565.2 354.4L570.4 354.5L575.6 354.6L580.8 354.6L586.0 354.7L591.2 354.7L596.4 354.8L601.5 354.8L606.7 354.8L611.9 354.9"/><path clip-path="url(#c14)" class="s6" d="M461.4 353.3L466.6 353.4L471.8 353.5L477.0 353.5L482.2 353.6L487.4 353.7L492.6 353.7L497.8 353.8L503.0 353.9L508.1 353.9L513.3 353.9L518.5 354.0L523.7 354.0L528.9 354.0L534.1 354.0L539.3 354.0L544.5 354.0L549.7 354.0L554.8 354.0L560.0 354.0L565.2 354.0L570.4 354.0L575.6 354.0L580.8 353.9L586.0 353.9L591.2 353.9L596.4 353.9L601.5 353.9L606.7 353.9L611.9 353.8"/><rect x="453.7" y="303.9" width="160.9" height="53.10000000000002" fill="none" stroke="#000" stroke-width="1.2"/><line x1="456.25" y1="357.0" x2="456.25" y2="361.2" stroke="#000" stroke-width="1.0"/><line x1="508.14" y1="357.0" x2="508.14" y2="361.2" stroke="#000" stroke-width="1.0"/><line x1="560.03" y1="357.0" x2="560.03" y2="361.2" stroke="#000" stroke-width="1.0"/><line x1="611.92" y1="357.0" x2="611.92" y2="361.2" stroke="#000" stroke-width="1.0"/><line x1="449.7" y1="312.9" x2="453.7" y2="312.9" stroke="#000" stroke-width="1.0"/><text x="445.70" y="316.90" text-anchor="end">0.15</text><line x1="449.7" y1="333.0" x2="453.7" y2="333.0" stroke="#000" stroke-width="1.0"/><text x="445.70" y="337.00" text-anchor="end">0.10</text><line x1="449.7" y1="352.7" x2="453.7" y2="352.7" stroke="#000" stroke-width="1.0"/><text x="445.70" y="356.70" text-anchor="end">0.05</text><clipPath id="c15"><rect x="49.65" y="369.5" width="160.9" height="53.0"/></clipPath><path clip-path="url(#c15)" class="s0" d="M57.4 420.5L62.6 416.6L67.8 406.3L73.0 398.7L78.1 394.9L83.3 392.9L88.5 391.6L93.7 390.4L98.9 389.1L104.1 387.8L109.3 386.8L114.5 385.9L119.7 385.1L124.8 384.4L130.0 383.8L135.2 383.5L140.4 383.2L145.6 383.0L150.8 382.7L156.0 382.5L161.2 382.3L166.4 382.1L171.5 381.9L176.7 381.8L181.9 381.7L187.1 381.6L192.3 381.5L197.5 381.4L202.7 381.4L207.9 381.4"/><path clip-path="url(#c15)" class="s1" d="M57.4 403.8L62.6 407.6L67.8 392.4L73.0 387.2L78.1 385.9L83.3 385.0L88.5 384.2L93.7 383.5L98.9 382.7L104.1 382.0L109.3 381.5L114.5 381.1L119.7 380.8L124.8 380.5L130.0 380.3L135.2 380.1L140.4 379.8L145.6 379.6L150.8 379.4L156.0 379.2L161.2 379.0L166.4 378.9L171.5 378.7L176.7 378.6L181.9 378.4L187.1 378.3L192.3 378.2L197.5 378.2L202.7 378.1L207.9 378.1"/><path clip-path="url(#c15)" class="s2" d="M57.4 389.1L62.6 399.3L67.8 393.6L73.0 389.1L78.1 386.5L83.3 385.4L88.5 384.6L93.7 384.0L98.9 383.4L104.1 382.9L109.3 382.5L114.5 382.1L119.7 381.7L124.8 381.4L130.0 381.1L135.2 380.9L140.4 380.6L145.6 380.3L150.8 380.0L156.0 379.8L161.2 379.5L166.4 379.3L171.5 379.0L176.7 378.8L181.9 378.6L187.1 378.4L192.3 378.3L197.5 378.1L202.7 378.0L207.9 377.8"/><path clip-path="url(#c15)" class="s3" d="M57.4 398.4L62.6 398.0L67.8 381.4L73.0 379.2L78.1 378.2L83.3 377.6L88.5 377.1L93.7 376.7L98.9 376.2L104.1 375.7L109.3 375.2L114.5 374.7L119.7 374.2L124.8 373.9L130.0 373.7L135.2 373.4L140.4 373.2L145.6 372.9L150.8 372.7L156.0 372.5L161.2 372.3L166.4 372.1L171.5 371.9L176.7 371.8L181.9 371.6L187.1 371.5L192.3 371.4L197.5 371.4L202.7 371.3L207.9 371.3"/><path clip-path="url(#c15)" class="s4" d="M57.4 412.8L62.6 404.3L67.8 389.1L73.0 383.3L78.1 382.6L83.3 381.4L88.5 380.3L93.7 379.5L98.9 379.1L104.1 378.7L109.3 378.3L114.5 377.8L119.7 377.3L124.8 376.9L130.0 376.7L135.2 376.4L140.4 376.2L145.6 375.9L150.8 375.7L156.0 375.5L161.2 375.3L166.4 375.1L171.5 374.9L176.7 374.8L181.9 374.7L187.1 374.5L192.3 374.5L197.5 374.4L202.7 374.3L207.9 374.3"/><path clip-path="url(#c15)" class="s5" d="M57.4 407.0L62.6 402.8L67.8 392.4L73.0 387.9L78.1 385.9L83.3 385.1L88.5 384.6L93.7 384.1L98.9 383.5L104.1 383.0L109.3 382.5L114.5 382.0L119.7 381.6L124.8 381.4L130.0 381.2L135.2 381.1L140.4 380.9L145.6 380.8L150.8 380.6L156.0 380.5L161.2 380.4L166.4 380.3L171.5 380.2L176.7 380.1L181.9 380.0L187.1 379.9L192.3 379.9L197.5 379.9L202.7 379.8L207.9 379.8"/><path clip-path="url(#c15)" class="s6" d="M57.4 412.8L62.6 414.0L67.8 398.0L73.0 392.9L78.1 391.0L83.3 389.7L88.5 388.7L93.7 387.8L98.9 387.1L104.1 386.5L109.3 386.1L114.5 385.8L119.7 385.5L124.8 385.3L130.0 385.1L135.2 384.9L140.4 384.8L145.6 384.7L150.8 384.5L156.0 384.4L161.2 384.3L166.4 384.2L171.5 384.1L176.7 384.0L181.9 383.9L187.1 383.9L192.3 383.8L197.5 383.8L202.7 383.8L207.9 383.7"/><rect x="49.65" y="369.5" width="160.9" height="53.0" fill="none" stroke="#000" stroke-width="1.2"/><line x1="52.20" y1="422.5" x2="52.20" y2="426.7" stroke="#000" stroke-width="1.0"/><text x="52.20" y="438.2" text-anchor="middle">0</text><line x1="104.09" y1="422.5" x2="104.09" y2="426.7" stroke="#000" stroke-width="1.0"/><text x="104.09" y="438.2" text-anchor="middle">60</text><line x1="155.98" y1="422.5" x2="155.98" y2="426.7" stroke="#000" stroke-width="1.0"/><text x="155.98" y="438.2" text-anchor="middle">120</text><line x1="207.87" y1="422.5" x2="207.87" y2="426.7" stroke="#000" stroke-width="1.0"/><text x="207.87" y="438.2" text-anchor="middle">180</text><line x1="45.65" y1="371.6" x2="49.65" y2="371.6" stroke="#000" stroke-width="1.0"/><text x="41.65" y="375.60" text-anchor="end">0.4</text><line x1="45.65" y1="401.3" x2="49.65" y2="401.3" stroke="#000" stroke-width="1.0"/><text x="41.65" y="405.30" text-anchor="end">0.3</text><text transform="translate(20.35,396.00) rotate(-90)" text-anchor="middle">dRMSE</text><text x="130.10" y="446.7" text-anchor="middle">Epochs</text><clipPath id="c16"><rect x="251.7" y="369.5" width="160.9" height="53.0"/></clipPath><path clip-path="url(#c16)" class="s0" d="M259.4 416.4L264.6 420.0L269.8 415.3L275.0 419.2L280.2 413.5L285.4 410.6L290.6 411.9L295.8 408.6L301.0 404.2L306.1 402.9L311.3 398.1L316.5 396.1L321.7 393.5L326.9 390.0L332.1 387.3L337.3 385.7L342.5 384.4L347.7 383.4L352.8 382.7L358.0 382.1L363.2 381.8L368.4 381.4L373.6 380.8L378.8 380.6L384.0 380.5L389.2 380.4L394.4 380.3L399.5 380.2L404.7 380.1L409.9 380.1"/><path clip-path="url(#c16)" class="s1" d="M259.4 376.6L264.6 376.9L269.8 377.1L275.0 377.4L280.2 377.6L285.4 377.8L290.6 378.0L295.8 378.2L301.0 378.4L306.1 378.6L311.3 378.7L316.5 378.8L321.7 378.8L326.9 378.9L332.1 378.9L337.3 378.9L342.5 378.9L347.7 378.9L352.8 378.9L358.0 378.9L363.2 378.9L368.4 378.9L373.6 378.9L378.8 378.8L384.0 378.8L389.2 378.8L394.4 378.8L399.5 378.8L404.7 378.8L409.9 378.8"/><path clip-path="url(#c16)" class="s2" d="M259.4 375.5L264.6 375.2L269.8 376.2L275.0 377.2L280.2 377.4L285.4 377.5L290.6 377.6L295.8 377.6L301.0 377.6L306.1 377.5L311.3 377.4L316.5 377.4L321.7 377.3L326.9 377.2L332.1 377.1L337.3 377.1L342.5 377.0L347.7 376.9L352.8 376.9L358.0 376.8L363.2 376.7L368.4 376.7L373.6 376.6L378.8 376.6L384.0 376.5L389.2 376.4L394.4 376.4L399.5 376.3L404.7 376.2L409.9 376.2"/><path clip-path="url(#c16)" class="s3" d="M259.4 376.3L264.6 375.9L269.8 377.8L275.0 379.1L280.2 379.5L285.4 379.8L290.6 380.0L295.8 380.1L301.0 380.2L306.1 380.3L311.3 380.3L316.5 380.4L321.7 380.4L326.9 380.4L332.1 380.4L337.3 380.4L342.5 380.4L347.7 380.4L352.8 380.4L358.0 380.4L363.2 380.4L368.4 380.4L373.6 380.3L378.8 380.3L384.0 380.3L389.2 380.3L394.4 380.2L399.5 380.2L404.7 380.2L409.9 380.1"/><path clip-path="url(#c16)" class="s4" d="M259.4 378.5L264.6 377.8L269.8 377.2L275.0 376.8L280.2 376.9L285.4 377.0L290.6 377.1L295.8 377.2L301.0 377.2L306.1 377.1L311.3 377.1L316.5 377.0L321.7 376.9L326.9 376.8L332.1 376.7L337.3 376.6L342.5 376.6L347.7 376.5L352.8 376.3L358.0 376.2L363.2 376.1L368.4 376.0L373.6 375.9L378.8 375.7L384.0 375.6L389.2 375.5L394.4 375.3L399.5 375.2L404.7 375.0L409.9 374.8"/><path clip-path="url(#c16)" class="s5" d="M259.4 375.0L264.6 375.2L269.8 376.3L275.0 377.2L280.2 377.5L285.4 377.7L290.6 377.8L295.8 377.8L301.0 377.8L306.1 377.8L311.3 377.7L316.5 377.7L321.7 377.6L326.9 377.6L332.1 377.5L337.3 377.5L342.5 377.5L347.7 377.4L352.8 377.4L358.0 377.4L363.2 377.3L368.4 377.3L373.6 377.3L378.8 377.2L384.0 377.2L389.2 377.2L394.4 377.2L399.5 377.1L404.7 377.1L409.9 377.1"/><path clip-path="url(#c16)" class="s6" d="M259.4 371.2L264.6 371.4L269.8 372.1L275.0 372.9L280.2 373.4L285.4 373.5L290.6 373.6L295.8 373.6L301.0 373.5L306.1 373.3L311.3 373.1L316.5 372.8L321.7 372.6L326.9 372.5L332.1 372.4L337.3 372.3L342.5 372.3L347.7 372.3L352.8 372.2L358.0 372.2L363.2 372.1L368.4 372.1L373.6 372.1L378.8 372.0L384.0 372.0L389.2 372.0L394.4 372.0L399.5 372.0L404.7 372.0L409.9 372.0"/><rect x="251.7" y="369.5" width="160.9" height="53.0" fill="none" stroke="#000" stroke-width="1.2"/><line x1="254.25" y1="422.5" x2="254.25" y2="426.7" stroke="#000" stroke-width="1.0"/><text x="254.25" y="438.2" text-anchor="middle">0</text><line x1="306.14" y1="422.5" x2="306.14" y2="426.7" stroke="#000" stroke-width="1.0"/><text x="306.14" y="438.2" text-anchor="middle">60</text><line x1="358.03" y1="422.5" x2="358.03" y2="426.7" stroke="#000" stroke-width="1.0"/><text x="358.03" y="438.2" text-anchor="middle">120</text><line x1="409.92" y1="422.5" x2="409.92" y2="426.7" stroke="#000" stroke-width="1.0"/><text x="409.92" y="438.2" text-anchor="middle">180</text><line x1="247.7" y1="384.3" x2="251.7" y2="384.3" stroke="#000" stroke-width="1.0"/><text x="243.70" y="388.30" text-anchor="end">0.4</text><line x1="247.7" y1="415.1" x2="251.7" y2="415.1" stroke="#000" stroke-width="1.0"/><text x="243.70" y="419.10" text-anchor="end">0.2</text><text x="332.15" y="446.7" text-anchor="middle">Epochs</text><clipPath id="c17"><rect x="453.7" y="369.5" width="160.9" height="53.0"/></clipPath><path clip-path="url(#c17)" class="s0" d="M461.4 420.2L466.6 404.2L471.8 395.2L477.0 396.5L482.2 399.4L487.4 399.7L492.6 401.6L497.8 402.3L503.0 405.1L508.1 405.9L513.3 406.4L518.5 405.9L523.7 404.2L528.9 403.5L534.1 403.1L539.3 402.9L544.5 402.7L549.7 401.9L554.8 400.7L560.0 399.8L565.2 399.3L570.4 398.8L575.6 398.4L580.8 398.1L586.0 397.8L591.2 397.6L596.4 397.5L601.5 397.3L606.7 397.2L611.9 397.2"/><path clip-path="url(#c17)" class="s1" d="M461.4 402.5L466.6 408.0L471.8 410.6L477.0 410.6L482.2 413.8L487.4 416.4L492.6 417.4L497.8 417.6L503.0 417.0L508.1 416.1L513.3 415.1L518.5 414.1L523.7 413.2L528.9 413.2L534.1 412.0L539.3 411.6L544.5 411.2L549.7 411.0L554.8 410.8L560.0 410.7L565.2 410.6L570.4 410.5L575.6 410.4L580.8 410.4L586.0 410.3L591.2 410.2L596.4 410.1L601.5 410.1L606.7 410.0L611.9 409.9"/><path clip-path="url(#c17)" class="s2" d="M461.4 393.9L466.6 392.0L471.8 394.8L477.0 396.5L482.2 395.2L487.4 395.8L492.6 395.2L497.8 395.6L503.0 394.8L508.1 395.6L513.3 395.2L518.5 395.6L523.7 395.8L528.9 395.8L534.1 395.4L539.3 395.3L544.5 395.2L549.7 395.1L554.8 395.0L560.0 394.9L565.2 394.9L570.4 394.8L575.6 394.7L580.8 394.6L586.0 394.5L591.2 394.4L596.4 394.3L601.5 394.2L606.7 394.0L611.9 393.9"/><path clip-path="url(#c17)" class="s3" d="M461.4 389.1L466.6 390.7L471.8 397.1L477.0 402.3L482.2 402.3L487.4 401.0L492.6 400.3L497.8 399.0L503.0 397.7L508.1 397.1L513.3 396.5L518.5 395.8L523.7 395.8L528.9 395.6L534.1 395.9L539.3 395.9L544.5 396.0L549.7 396.0L554.8 396.1L560.0 396.1L565.2 396.1L570.4 396.1L575.6 396.2L580.8 396.2L586.0 396.2L591.2 396.2L596.4 396.2L601.5 396.2L606.7 396.2L611.9 396.2"/><path clip-path="url(#c17)" class="s4" d="M461.4 391.9L466.6 390.0L471.8 389.4L477.0 390.0L482.2 389.7L487.4 392.6L492.6 394.8L497.8 395.2L503.0 393.9L508.1 393.9L513.3 393.9L518.5 394.3L523.7 393.5L528.9 393.3L534.1 393.2L539.3 393.1L544.5 392.8L549.7 392.5L554.8 392.2L560.0 391.9L565.2 391.6L570.4 391.3L575.6 391.1L580.8 390.8L586.0 390.6L591.2 390.4L596.4 390.3L601.5 390.2L606.7 390.0L611.9 390.0"/><path clip-path="url(#c17)" class="s5" d="M461.4 379.8L466.6 378.5L471.8 376.8L477.0 376.3L482.2 375.5L487.4 375.5L492.6 377.2L497.8 377.8L503.0 377.7L508.1 376.3L513.3 375.3L518.5 374.6L523.7 374.2L528.9 374.0L534.1 373.5L539.3 373.2L544.5 372.9L549.7 372.7L554.8 372.4L560.0 372.3L565.2 372.1L570.4 371.9L575.6 371.8L580.8 371.7L586.0 371.6L591.2 371.5L596.4 371.4L601.5 371.4L606.7 371.3L611.9 371.3"/><path clip-path="url(#c17)" class="s6" d="M461.4 385.6L466.6 385.4L471.8 385.6L477.0 386.2L482.2 385.6L487.4 385.3L492.6 385.0L497.8 385.3L503.0 386.2L508.1 385.6L513.3 385.3L518.5 385.0L523.7 384.4L528.9 384.0L534.1 383.4L539.3 382.8L544.5 382.1L549.7 381.6L554.8 381.1L560.0 380.8L565.2 380.6L570.4 380.4L575.6 380.3L580.8 380.2L586.0 380.1L591.2 379.9L596.4 379.8L601.5 379.7L606.7 379.6L611.9 379.4"/><rect x="453.7" y="369.5" width="160.9" height="53.0" fill="none" stroke="#000" stroke-width="1.2"/><line x1="456.25" y1="422.5" x2="456.25" y2="426.7" stroke="#000" stroke-width="1.0"/><text x="456.25" y="438.2" text-anchor="middle">0</text><line x1="508.14" y1="422.5" x2="508.14" y2="426.7" stroke="#000" stroke-width="1.0"/><text x="508.14" y="438.2" text-anchor="middle">60</text><line x1="560.03" y1="422.5" x2="560.03" y2="426.7" stroke="#000" stroke-width="1.0"/><text x="560.03" y="438.2" text-anchor="middle">120</text><line x1="611.92" y1="422.5" x2="611.92" y2="426.7" stroke="#000" stroke-width="1.0"/><text x="611.92" y="438.2" text-anchor="middle">180</text><line x1="449.7" y1="383.0" x2="453.7" y2="383.0" stroke="#000" stroke-width="1.0"/><text x="445.70" y="387.00" text-anchor="end">0.45</text><line x1="449.7" y1="409.6" x2="453.7" y2="409.6" stroke="#000" stroke-width="1.0"/><text x="445.70" y="413.60" text-anchor="end">0.40</text><text x="534.15" y="446.7" text-anchor="middle">Epochs</text><g><line x1="0.0" y1="460.5" x2="22.0" y2="460.5" stroke="#d62728" stroke-opacity="0.9" stroke-width="1.05"/><circle cx="11.00" cy="460.50" r="1.7" fill="#e67d7e" stroke="#d62728" stroke-opacity="0.75" stroke-width="0.8"/></g><text x="25.00" y="464.60">No pretraining</text><g><line x1="101.3" y1="460.5" x2="123.0" y2="460.5" stroke="#1f77b4" stroke-opacity="0.9" stroke-width="1.05"/><rect x="110.50" y="458.85" width="3.30" height="3.30" fill="#79add2" stroke="#1f77b4" stroke-opacity="0.75" stroke-width="0.8"/></g><text x="126.00" y="464.60">TS2Vec</text><g><line x1="173.8" y1="460.5" x2="195.0" y2="460.5" stroke="#ff7f0e" stroke-opacity="0.9" stroke-width="1.05"/><path d="M184.40 458.70L186.20 462.30L182.60 462.30Z" fill="#ffb26e" stroke="#ff7f0e" stroke-opacity="0.75" stroke-width="0.8"/></g><text x="198.00" y="464.60">Topo-TS2Vec</text><g><line x1="271.9" y1="460.5" x2="293.5" y2="460.5" stroke="#2ca02c" stroke-opacity="0.9" stroke-width="1.05"/><path d="M280.90 460.50L284.50 458.70L284.50 462.30Z" fill="#80c680" stroke="#2ca02c" stroke-opacity="0.75" stroke-width="0.8"/></g><text x="296.50" y="464.60">GGeo-TS2Vec</text><g><line x1="375.0" y1="460.5" x2="396.9" y2="460.5" stroke="#9467bd" stroke-opacity="0.9" stroke-width="1.05"/><path d="M385.95 458.30L387.80 460.50L385.95 462.70L384.10 460.50Z" fill="#bfa4d7" stroke="#9467bd" stroke-opacity="0.75" stroke-width="0.8"/></g><text x="399.90" y="464.60">SoftCLT</text><g><line x1="448.5" y1="460.5" x2="470.0" y2="460.5" stroke="#bcbd22" stroke-opacity="0.9" stroke-width="1.05"/><path d="M459.25 462.30L461.05 458.70L457.45 458.70Z" fill="#d7d77a" stroke="#bcbd22" stroke-opacity="0.75" stroke-width="0.8"/></g><text x="473.00" y="464.60">Topo-SoftCLT</text><g><line x1="547.8" y1="460.5" x2="569.0" y2="460.5" stroke="#17becf" stroke-opacity="0.9" stroke-width="1.05"/><path d="M560.20 460.50L556.60 458.70L556.60 462.30Z" fill="#74d8e2" stroke="#17becf" stroke-opacity="0.75" stroke-width="0.8"/></g><text x="572.00" y="464.60">GGeo-SoftCLT</text></g></svg></body></html>
